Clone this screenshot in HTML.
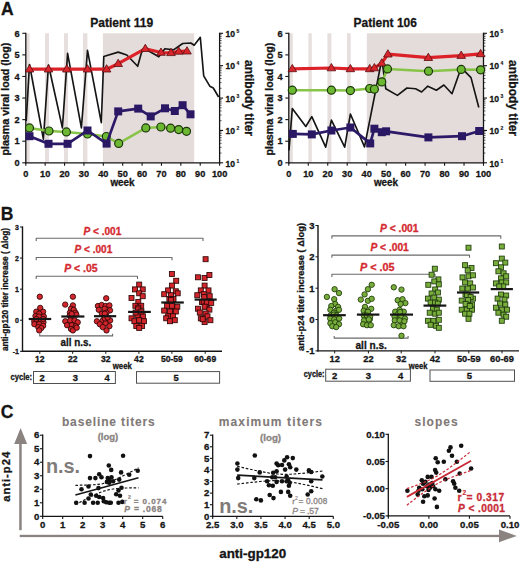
<!DOCTYPE html>
<html><head><meta charset="utf-8"><style>
html,body{margin:0;padding:0;background:#fff;}
svg{display:block;}
</style></head><body>
<svg width="520" height="563" viewBox="0 0 520 563" font-family='"Liberation Sans", sans-serif'>
<rect width="520" height="563" fill="#ffffff"/>
<text x="1.0" y="15.3" font-size="17.5" font-weight="bold" text-anchor="start" fill="#151515" stroke="#151515" stroke-width="0.3">A</text>
<rect x="26.00" y="33.30" width="3.60" height="129.50" fill="#e6dfdd" stroke="none" stroke-width="0"/>
<rect x="45.00" y="33.30" width="4.00" height="129.50" fill="#e6dfdd" stroke="none" stroke-width="0"/>
<rect x="64.00" y="33.30" width="4.00" height="129.50" fill="#e6dfdd" stroke="none" stroke-width="0"/>
<rect x="83.00" y="33.30" width="4.40" height="129.50" fill="#e6dfdd" stroke="none" stroke-width="0"/>
<rect x="102.90" y="33.30" width="91.30" height="129.50" fill="#e4dcda" stroke="none" stroke-width="0"/>
<line x1="25.80" y1="32.70" x2="25.80" y2="163.40" stroke="#151515" stroke-width="1.3"/>
<line x1="25.20" y1="162.80" x2="220.20" y2="162.80" stroke="#151515" stroke-width="1.3"/>
<line x1="219.60" y1="32.70" x2="219.60" y2="163.40" stroke="#151515" stroke-width="1.3"/>
<line x1="22.30" y1="162.80" x2="25.80" y2="162.80" stroke="#151515" stroke-width="1.1"/>
<text x="19.6" y="166.0" font-size="9.2" font-weight="bold" text-anchor="end" fill="#151515" stroke="#151515" stroke-width="0.3">0</text>
<line x1="22.30" y1="141.22" x2="25.80" y2="141.22" stroke="#151515" stroke-width="1.1"/>
<text x="19.6" y="144.41666666666666" font-size="9.2" font-weight="bold" text-anchor="end" fill="#151515" stroke="#151515" stroke-width="0.3">1</text>
<line x1="22.30" y1="119.63" x2="25.80" y2="119.63" stroke="#151515" stroke-width="1.1"/>
<text x="19.6" y="122.83333333333336" font-size="9.2" font-weight="bold" text-anchor="end" fill="#151515" stroke="#151515" stroke-width="0.3">2</text>
<line x1="22.30" y1="98.05" x2="25.80" y2="98.05" stroke="#151515" stroke-width="1.1"/>
<text x="19.6" y="101.25000000000001" font-size="9.2" font-weight="bold" text-anchor="end" fill="#151515" stroke="#151515" stroke-width="0.3">3</text>
<line x1="22.30" y1="76.47" x2="25.80" y2="76.47" stroke="#151515" stroke-width="1.1"/>
<text x="19.6" y="79.66666666666669" font-size="9.2" font-weight="bold" text-anchor="end" fill="#151515" stroke="#151515" stroke-width="0.3">4</text>
<line x1="22.30" y1="54.88" x2="25.80" y2="54.88" stroke="#151515" stroke-width="1.1"/>
<text x="19.6" y="58.08333333333334" font-size="9.2" font-weight="bold" text-anchor="end" fill="#151515" stroke="#151515" stroke-width="0.3">5</text>
<line x1="22.30" y1="33.30" x2="25.80" y2="33.30" stroke="#151515" stroke-width="1.1"/>
<text x="19.6" y="36.500000000000014" font-size="9.2" font-weight="bold" text-anchor="end" fill="#151515" stroke="#151515" stroke-width="0.3">6</text>
<line x1="25.80" y1="162.80" x2="25.80" y2="165.80" stroke="#151515" stroke-width="1.1"/>
<text x="25.8" y="176.6" font-size="9.2" font-weight="bold" text-anchor="middle" fill="#151515" stroke="#151515" stroke-width="0.3">0</text>
<line x1="45.18" y1="162.80" x2="45.18" y2="165.80" stroke="#151515" stroke-width="1.1"/>
<text x="45.18" y="176.6" font-size="9.2" font-weight="bold" text-anchor="middle" fill="#151515" stroke="#151515" stroke-width="0.3">10</text>
<line x1="64.56" y1="162.80" x2="64.56" y2="165.80" stroke="#151515" stroke-width="1.1"/>
<text x="64.56" y="176.6" font-size="9.2" font-weight="bold" text-anchor="middle" fill="#151515" stroke="#151515" stroke-width="0.3">20</text>
<line x1="83.94" y1="162.80" x2="83.94" y2="165.80" stroke="#151515" stroke-width="1.1"/>
<text x="83.94" y="176.6" font-size="9.2" font-weight="bold" text-anchor="middle" fill="#151515" stroke="#151515" stroke-width="0.3">30</text>
<line x1="103.32" y1="162.80" x2="103.32" y2="165.80" stroke="#151515" stroke-width="1.1"/>
<text x="103.32" y="176.6" font-size="9.2" font-weight="bold" text-anchor="middle" fill="#151515" stroke="#151515" stroke-width="0.3">40</text>
<line x1="122.70" y1="162.80" x2="122.70" y2="165.80" stroke="#151515" stroke-width="1.1"/>
<text x="122.7" y="176.6" font-size="9.2" font-weight="bold" text-anchor="middle" fill="#151515" stroke="#151515" stroke-width="0.3">50</text>
<line x1="142.08" y1="162.80" x2="142.08" y2="165.80" stroke="#151515" stroke-width="1.1"/>
<text x="142.07999999999998" y="176.6" font-size="9.2" font-weight="bold" text-anchor="middle" fill="#151515" stroke="#151515" stroke-width="0.3">60</text>
<line x1="161.46" y1="162.80" x2="161.46" y2="165.80" stroke="#151515" stroke-width="1.1"/>
<text x="161.45999999999998" y="176.6" font-size="9.2" font-weight="bold" text-anchor="middle" fill="#151515" stroke="#151515" stroke-width="0.3">70</text>
<line x1="180.84" y1="162.80" x2="180.84" y2="165.80" stroke="#151515" stroke-width="1.1"/>
<text x="180.84" y="176.6" font-size="9.2" font-weight="bold" text-anchor="middle" fill="#151515" stroke="#151515" stroke-width="0.3">80</text>
<line x1="200.22" y1="162.80" x2="200.22" y2="165.80" stroke="#151515" stroke-width="1.1"/>
<text x="200.22" y="176.6" font-size="9.2" font-weight="bold" text-anchor="middle" fill="#151515" stroke="#151515" stroke-width="0.3">90</text>
<line x1="219.60" y1="162.80" x2="219.60" y2="165.80" stroke="#151515" stroke-width="1.1"/>
<text x="219.60000000000002" y="176.6" font-size="9.2" font-weight="bold" text-anchor="middle" fill="#151515" stroke="#151515" stroke-width="0.3">100</text>
<line x1="219.60" y1="162.80" x2="223.10" y2="162.80" stroke="#151515" stroke-width="1.1"/>
<text x="225.6" y="166.5" font-size="8.6" font-weight="bold" text-anchor="start" fill="#151515" stroke="#151515" stroke-width="0.3">10</text>
<text x="236.6" y="162.60000000000002" font-size="5.0" font-weight="bold" text-anchor="start" fill="#151515" stroke="#151515" stroke-width="0.15">1</text>
<line x1="219.30" y1="153.05" x2="221.60" y2="153.05" stroke="#151515" stroke-width="0.7"/>
<line x1="219.30" y1="147.35" x2="221.60" y2="147.35" stroke="#151515" stroke-width="0.7"/>
<line x1="219.30" y1="143.31" x2="221.60" y2="143.31" stroke="#151515" stroke-width="0.7"/>
<line x1="219.30" y1="140.17" x2="221.60" y2="140.17" stroke="#151515" stroke-width="0.7"/>
<line x1="219.30" y1="137.61" x2="221.60" y2="137.61" stroke="#151515" stroke-width="0.7"/>
<line x1="219.30" y1="135.44" x2="221.60" y2="135.44" stroke="#151515" stroke-width="0.7"/>
<line x1="219.30" y1="133.56" x2="221.60" y2="133.56" stroke="#151515" stroke-width="0.7"/>
<line x1="219.30" y1="131.91" x2="221.60" y2="131.91" stroke="#151515" stroke-width="0.7"/>
<line x1="219.60" y1="130.43" x2="223.10" y2="130.43" stroke="#151515" stroke-width="1.1"/>
<text x="225.6" y="134.125" font-size="8.6" font-weight="bold" text-anchor="start" fill="#151515" stroke="#151515" stroke-width="0.3">10</text>
<text x="236.6" y="130.22500000000002" font-size="5.0" font-weight="bold" text-anchor="start" fill="#151515" stroke="#151515" stroke-width="0.15">2</text>
<line x1="219.30" y1="120.68" x2="221.60" y2="120.68" stroke="#151515" stroke-width="0.7"/>
<line x1="219.30" y1="114.98" x2="221.60" y2="114.98" stroke="#151515" stroke-width="0.7"/>
<line x1="219.30" y1="110.93" x2="221.60" y2="110.93" stroke="#151515" stroke-width="0.7"/>
<line x1="219.30" y1="107.80" x2="221.60" y2="107.80" stroke="#151515" stroke-width="0.7"/>
<line x1="219.30" y1="105.23" x2="221.60" y2="105.23" stroke="#151515" stroke-width="0.7"/>
<line x1="219.30" y1="103.06" x2="221.60" y2="103.06" stroke="#151515" stroke-width="0.7"/>
<line x1="219.30" y1="101.19" x2="221.60" y2="101.19" stroke="#151515" stroke-width="0.7"/>
<line x1="219.30" y1="99.53" x2="221.60" y2="99.53" stroke="#151515" stroke-width="0.7"/>
<line x1="219.60" y1="98.05" x2="223.10" y2="98.05" stroke="#151515" stroke-width="1.1"/>
<text x="225.6" y="101.75000000000001" font-size="8.6" font-weight="bold" text-anchor="start" fill="#151515" stroke="#151515" stroke-width="0.3">10</text>
<text x="236.6" y="97.85000000000001" font-size="5.0" font-weight="bold" text-anchor="start" fill="#151515" stroke="#151515" stroke-width="0.15">3</text>
<line x1="219.30" y1="88.30" x2="221.60" y2="88.30" stroke="#151515" stroke-width="0.7"/>
<line x1="219.30" y1="82.60" x2="221.60" y2="82.60" stroke="#151515" stroke-width="0.7"/>
<line x1="219.30" y1="78.56" x2="221.60" y2="78.56" stroke="#151515" stroke-width="0.7"/>
<line x1="219.30" y1="75.42" x2="221.60" y2="75.42" stroke="#151515" stroke-width="0.7"/>
<line x1="219.30" y1="72.86" x2="221.60" y2="72.86" stroke="#151515" stroke-width="0.7"/>
<line x1="219.30" y1="70.69" x2="221.60" y2="70.69" stroke="#151515" stroke-width="0.7"/>
<line x1="219.30" y1="68.81" x2="221.60" y2="68.81" stroke="#151515" stroke-width="0.7"/>
<line x1="219.30" y1="67.16" x2="221.60" y2="67.16" stroke="#151515" stroke-width="0.7"/>
<line x1="219.60" y1="65.68" x2="223.10" y2="65.68" stroke="#151515" stroke-width="1.1"/>
<text x="225.6" y="69.37500000000001" font-size="8.6" font-weight="bold" text-anchor="start" fill="#151515" stroke="#151515" stroke-width="0.3">10</text>
<text x="236.6" y="65.47500000000001" font-size="5.0" font-weight="bold" text-anchor="start" fill="#151515" stroke="#151515" stroke-width="0.15">4</text>
<line x1="219.30" y1="55.93" x2="221.60" y2="55.93" stroke="#151515" stroke-width="0.7"/>
<line x1="219.30" y1="50.23" x2="221.60" y2="50.23" stroke="#151515" stroke-width="0.7"/>
<line x1="219.30" y1="46.18" x2="221.60" y2="46.18" stroke="#151515" stroke-width="0.7"/>
<line x1="219.30" y1="43.05" x2="221.60" y2="43.05" stroke="#151515" stroke-width="0.7"/>
<line x1="219.30" y1="40.48" x2="221.60" y2="40.48" stroke="#151515" stroke-width="0.7"/>
<line x1="219.30" y1="38.31" x2="221.60" y2="38.31" stroke="#151515" stroke-width="0.7"/>
<line x1="219.30" y1="36.44" x2="221.60" y2="36.44" stroke="#151515" stroke-width="0.7"/>
<line x1="219.30" y1="34.78" x2="221.60" y2="34.78" stroke="#151515" stroke-width="0.7"/>
<line x1="219.60" y1="33.30" x2="223.10" y2="33.30" stroke="#151515" stroke-width="1.1"/>
<text x="225.6" y="37.000000000000014" font-size="8.6" font-weight="bold" text-anchor="start" fill="#151515" stroke="#151515" stroke-width="0.3">10</text>
<text x="236.6" y="33.10000000000001" font-size="5.0" font-weight="bold" text-anchor="start" fill="#151515" stroke="#151515" stroke-width="0.15">5</text>
<text x="90.2" y="26.6" font-size="13.5" font-weight="bold" text-anchor="start" fill="#151515" stroke="#151515" stroke-width="0.3" textLength="63" lengthAdjust="spacingAndGlyphs">Patient 119</text>
<polyline points="26.2,121.0 29.5,64.5 43.4,139.1 48.5,65.0 62.4,127.9 67.6,53.4 81.4,127.9 87.5,50.4 101.3,122.7 103.8,56.5 107.0,55.5 118.2,52.1 126.8,55.0 137.7,66.3 141.5,52.5 145.3,49.0 158.8,56.8 164.9,48.7 173.5,49.9 182.7,43.5 190.8,43.0 194.2,45.2 200.3,37.3 203.7,75.8 209.8,86.2 213.3,88.0 218.6,97.0" fill="none" stroke="#151515" stroke-width="1.65" stroke-linejoin="round"/>
<polyline points="29.5,69.2 48.5,69.2 66.8,69.2 87.5,69.2 106.6,69.2 118.2,63.7 145.3,48.7 161.0,52.5 171.0,52.8 178.7,51.4 187.0,51.2" fill="none" stroke="#dc2228" stroke-width="3.2" stroke-linejoin="round"/>
<polygon points="29.5,64.7 33.8,72.0 25.2,72.0" fill="#d8262c" stroke="#5a0e10" stroke-width="0.8" stroke-linejoin="round"/>
<polygon points="48.5,64.7 52.8,72.0 44.2,72.0" fill="#d8262c" stroke="#5a0e10" stroke-width="0.8" stroke-linejoin="round"/>
<polygon points="66.8,64.7 71.1,72.0 62.5,72.0" fill="#d8262c" stroke="#5a0e10" stroke-width="0.8" stroke-linejoin="round"/>
<polygon points="87.5,64.7 91.8,72.0 83.2,72.0" fill="#d8262c" stroke="#5a0e10" stroke-width="0.8" stroke-linejoin="round"/>
<polygon points="106.6,64.7 110.9,72.0 102.3,72.0" fill="#d8262c" stroke="#5a0e10" stroke-width="0.8" stroke-linejoin="round"/>
<polygon points="118.2,59.2 122.5,66.5 113.9,66.5" fill="#d8262c" stroke="#5a0e10" stroke-width="0.8" stroke-linejoin="round"/>
<polygon points="145.3,44.2 149.6,51.5 141.0,51.5" fill="#d8262c" stroke="#5a0e10" stroke-width="0.8" stroke-linejoin="round"/>
<polygon points="161.0,48.0 165.3,55.3 156.7,55.3" fill="#d8262c" stroke="#5a0e10" stroke-width="0.8" stroke-linejoin="round"/>
<polygon points="171.0,48.3 175.3,55.6 166.7,55.6" fill="#d8262c" stroke="#5a0e10" stroke-width="0.8" stroke-linejoin="round"/>
<polygon points="178.7,46.9 183.0,54.2 174.4,54.2" fill="#d8262c" stroke="#5a0e10" stroke-width="0.8" stroke-linejoin="round"/>
<polygon points="187.0,46.7 191.3,54.0 182.7,54.0" fill="#d8262c" stroke="#5a0e10" stroke-width="0.8" stroke-linejoin="round"/>
<polyline points="29.5,127.9 49.0,131.0 66.4,131.9 87.5,134.0 106.3,136.5 118.7,143.4 145.8,127.9 160.9,127.0 170.6,128.2 178.7,129.6 186.5,131.3" fill="none" stroke="#88c448" stroke-width="2.5" stroke-linejoin="round"/>
<circle cx="29.5" cy="127.9" r="4.0" fill="#6cb833" stroke="#1c360a" stroke-width="1.2"/>
<circle cx="49.0" cy="131.0" r="4.0" fill="#6cb833" stroke="#1c360a" stroke-width="1.2"/>
<circle cx="66.4" cy="131.9" r="4.0" fill="#6cb833" stroke="#1c360a" stroke-width="1.2"/>
<circle cx="87.5" cy="134.0" r="4.0" fill="#6cb833" stroke="#1c360a" stroke-width="1.2"/>
<circle cx="106.3" cy="136.5" r="4.0" fill="#6cb833" stroke="#1c360a" stroke-width="1.2"/>
<circle cx="118.7" cy="143.4" r="4.0" fill="#6cb833" stroke="#1c360a" stroke-width="1.2"/>
<circle cx="145.8" cy="127.9" r="4.0" fill="#6cb833" stroke="#1c360a" stroke-width="1.2"/>
<circle cx="160.9" cy="127.0" r="4.0" fill="#6cb833" stroke="#1c360a" stroke-width="1.2"/>
<circle cx="170.6" cy="128.2" r="4.0" fill="#6cb833" stroke="#1c360a" stroke-width="1.2"/>
<circle cx="178.7" cy="129.6" r="4.0" fill="#6cb833" stroke="#1c360a" stroke-width="1.2"/>
<circle cx="186.5" cy="131.3" r="4.0" fill="#6cb833" stroke="#1c360a" stroke-width="1.2"/>
<polyline points="29.5,136.2 48.5,143.8 67.6,143.8 87.5,130.5 106.6,143.6 118.2,111.4 138.2,108.6 150.7,116.4 165.0,108.3 174.8,111.0 182.6,105.2 190.5,114.3" fill="none" stroke="#2c1a68" stroke-width="2.7" stroke-linejoin="round"/>
<rect x="25.5" y="132.2" width="8.0" height="8.0" fill="#2a1865" stroke="none" stroke-width="0"/>
<rect x="44.5" y="139.8" width="8.0" height="8.0" fill="#2a1865" stroke="none" stroke-width="0"/>
<rect x="63.6" y="139.8" width="8.0" height="8.0" fill="#2a1865" stroke="none" stroke-width="0"/>
<rect x="83.5" y="126.5" width="8.0" height="8.0" fill="#2a1865" stroke="none" stroke-width="0"/>
<rect x="102.6" y="139.6" width="8.0" height="8.0" fill="#2a1865" stroke="none" stroke-width="0"/>
<rect x="114.2" y="107.4" width="8.0" height="8.0" fill="#2a1865" stroke="none" stroke-width="0"/>
<rect x="134.2" y="104.6" width="8.0" height="8.0" fill="#2a1865" stroke="none" stroke-width="0"/>
<rect x="146.7" y="112.4" width="8.0" height="8.0" fill="#2a1865" stroke="none" stroke-width="0"/>
<rect x="161.0" y="104.3" width="8.0" height="8.0" fill="#2a1865" stroke="none" stroke-width="0"/>
<rect x="170.8" y="107.0" width="8.0" height="8.0" fill="#2a1865" stroke="none" stroke-width="0"/>
<rect x="178.6" y="101.2" width="8.0" height="8.0" fill="#2a1865" stroke="none" stroke-width="0"/>
<rect x="186.5" y="110.3" width="8.0" height="8.0" fill="#2a1865" stroke="none" stroke-width="0"/>
<rect x="288.80" y="33.30" width="4.00" height="129.50" fill="#e6dfdd" stroke="none" stroke-width="0"/>
<rect x="308.40" y="33.30" width="3.40" height="129.50" fill="#e6dfdd" stroke="none" stroke-width="0"/>
<rect x="327.40" y="33.30" width="4.00" height="129.50" fill="#e6dfdd" stroke="none" stroke-width="0"/>
<rect x="347.00" y="33.30" width="3.70" height="129.50" fill="#e6dfdd" stroke="none" stroke-width="0"/>
<rect x="366.80" y="33.30" width="116.70" height="129.50" fill="#e4dcda" stroke="none" stroke-width="0"/>
<line x1="288.80" y1="32.70" x2="288.80" y2="163.40" stroke="#151515" stroke-width="1.3"/>
<line x1="288.20" y1="162.80" x2="484.10" y2="162.80" stroke="#151515" stroke-width="1.3"/>
<line x1="483.50" y1="32.70" x2="483.50" y2="163.40" stroke="#151515" stroke-width="1.3"/>
<line x1="285.30" y1="162.80" x2="288.80" y2="162.80" stroke="#151515" stroke-width="1.1"/>
<text x="282.6" y="166.0" font-size="9.2" font-weight="bold" text-anchor="end" fill="#151515" stroke="#151515" stroke-width="0.3">0</text>
<line x1="285.30" y1="141.22" x2="288.80" y2="141.22" stroke="#151515" stroke-width="1.1"/>
<text x="282.6" y="144.41666666666666" font-size="9.2" font-weight="bold" text-anchor="end" fill="#151515" stroke="#151515" stroke-width="0.3">1</text>
<line x1="285.30" y1="119.63" x2="288.80" y2="119.63" stroke="#151515" stroke-width="1.1"/>
<text x="282.6" y="122.83333333333336" font-size="9.2" font-weight="bold" text-anchor="end" fill="#151515" stroke="#151515" stroke-width="0.3">2</text>
<line x1="285.30" y1="98.05" x2="288.80" y2="98.05" stroke="#151515" stroke-width="1.1"/>
<text x="282.6" y="101.25000000000001" font-size="9.2" font-weight="bold" text-anchor="end" fill="#151515" stroke="#151515" stroke-width="0.3">3</text>
<line x1="285.30" y1="76.47" x2="288.80" y2="76.47" stroke="#151515" stroke-width="1.1"/>
<text x="282.6" y="79.66666666666669" font-size="9.2" font-weight="bold" text-anchor="end" fill="#151515" stroke="#151515" stroke-width="0.3">4</text>
<line x1="285.30" y1="54.88" x2="288.80" y2="54.88" stroke="#151515" stroke-width="1.1"/>
<text x="282.6" y="58.08333333333334" font-size="9.2" font-weight="bold" text-anchor="end" fill="#151515" stroke="#151515" stroke-width="0.3">5</text>
<line x1="285.30" y1="33.30" x2="288.80" y2="33.30" stroke="#151515" stroke-width="1.1"/>
<text x="282.6" y="36.500000000000014" font-size="9.2" font-weight="bold" text-anchor="end" fill="#151515" stroke="#151515" stroke-width="0.3">6</text>
<line x1="288.80" y1="162.80" x2="288.80" y2="165.80" stroke="#151515" stroke-width="1.1"/>
<text x="288.8" y="176.6" font-size="9.2" font-weight="bold" text-anchor="middle" fill="#151515" stroke="#151515" stroke-width="0.3">0</text>
<line x1="308.27" y1="162.80" x2="308.27" y2="165.80" stroke="#151515" stroke-width="1.1"/>
<text x="308.27" y="176.6" font-size="9.2" font-weight="bold" text-anchor="middle" fill="#151515" stroke="#151515" stroke-width="0.3">10</text>
<line x1="327.74" y1="162.80" x2="327.74" y2="165.80" stroke="#151515" stroke-width="1.1"/>
<text x="327.74" y="176.6" font-size="9.2" font-weight="bold" text-anchor="middle" fill="#151515" stroke="#151515" stroke-width="0.3">20</text>
<line x1="347.21" y1="162.80" x2="347.21" y2="165.80" stroke="#151515" stroke-width="1.1"/>
<text x="347.21000000000004" y="176.6" font-size="9.2" font-weight="bold" text-anchor="middle" fill="#151515" stroke="#151515" stroke-width="0.3">30</text>
<line x1="366.68" y1="162.80" x2="366.68" y2="165.80" stroke="#151515" stroke-width="1.1"/>
<text x="366.68" y="176.6" font-size="9.2" font-weight="bold" text-anchor="middle" fill="#151515" stroke="#151515" stroke-width="0.3">40</text>
<line x1="386.15" y1="162.80" x2="386.15" y2="165.80" stroke="#151515" stroke-width="1.1"/>
<text x="386.15" y="176.6" font-size="9.2" font-weight="bold" text-anchor="middle" fill="#151515" stroke="#151515" stroke-width="0.3">50</text>
<line x1="405.62" y1="162.80" x2="405.62" y2="165.80" stroke="#151515" stroke-width="1.1"/>
<text x="405.62" y="176.6" font-size="9.2" font-weight="bold" text-anchor="middle" fill="#151515" stroke="#151515" stroke-width="0.3">60</text>
<line x1="425.09" y1="162.80" x2="425.09" y2="165.80" stroke="#151515" stroke-width="1.1"/>
<text x="425.09000000000003" y="176.6" font-size="9.2" font-weight="bold" text-anchor="middle" fill="#151515" stroke="#151515" stroke-width="0.3">70</text>
<line x1="444.56" y1="162.80" x2="444.56" y2="165.80" stroke="#151515" stroke-width="1.1"/>
<text x="444.56" y="176.6" font-size="9.2" font-weight="bold" text-anchor="middle" fill="#151515" stroke="#151515" stroke-width="0.3">80</text>
<line x1="464.03" y1="162.80" x2="464.03" y2="165.80" stroke="#151515" stroke-width="1.1"/>
<text x="464.03" y="176.6" font-size="9.2" font-weight="bold" text-anchor="middle" fill="#151515" stroke="#151515" stroke-width="0.3">90</text>
<line x1="483.50" y1="162.80" x2="483.50" y2="165.80" stroke="#151515" stroke-width="1.1"/>
<text x="483.5" y="176.6" font-size="9.2" font-weight="bold" text-anchor="middle" fill="#151515" stroke="#151515" stroke-width="0.3">100</text>
<line x1="483.50" y1="162.80" x2="487.00" y2="162.80" stroke="#151515" stroke-width="1.1"/>
<text x="489.5" y="166.5" font-size="8.6" font-weight="bold" text-anchor="start" fill="#151515" stroke="#151515" stroke-width="0.3">10</text>
<text x="500.5" y="162.60000000000002" font-size="5.0" font-weight="bold" text-anchor="start" fill="#151515" stroke="#151515" stroke-width="0.15">1</text>
<line x1="483.20" y1="153.05" x2="485.50" y2="153.05" stroke="#151515" stroke-width="0.7"/>
<line x1="483.20" y1="147.35" x2="485.50" y2="147.35" stroke="#151515" stroke-width="0.7"/>
<line x1="483.20" y1="143.31" x2="485.50" y2="143.31" stroke="#151515" stroke-width="0.7"/>
<line x1="483.20" y1="140.17" x2="485.50" y2="140.17" stroke="#151515" stroke-width="0.7"/>
<line x1="483.20" y1="137.61" x2="485.50" y2="137.61" stroke="#151515" stroke-width="0.7"/>
<line x1="483.20" y1="135.44" x2="485.50" y2="135.44" stroke="#151515" stroke-width="0.7"/>
<line x1="483.20" y1="133.56" x2="485.50" y2="133.56" stroke="#151515" stroke-width="0.7"/>
<line x1="483.20" y1="131.91" x2="485.50" y2="131.91" stroke="#151515" stroke-width="0.7"/>
<line x1="483.50" y1="130.43" x2="487.00" y2="130.43" stroke="#151515" stroke-width="1.1"/>
<text x="489.5" y="134.125" font-size="8.6" font-weight="bold" text-anchor="start" fill="#151515" stroke="#151515" stroke-width="0.3">10</text>
<text x="500.5" y="130.22500000000002" font-size="5.0" font-weight="bold" text-anchor="start" fill="#151515" stroke="#151515" stroke-width="0.15">2</text>
<line x1="483.20" y1="120.68" x2="485.50" y2="120.68" stroke="#151515" stroke-width="0.7"/>
<line x1="483.20" y1="114.98" x2="485.50" y2="114.98" stroke="#151515" stroke-width="0.7"/>
<line x1="483.20" y1="110.93" x2="485.50" y2="110.93" stroke="#151515" stroke-width="0.7"/>
<line x1="483.20" y1="107.80" x2="485.50" y2="107.80" stroke="#151515" stroke-width="0.7"/>
<line x1="483.20" y1="105.23" x2="485.50" y2="105.23" stroke="#151515" stroke-width="0.7"/>
<line x1="483.20" y1="103.06" x2="485.50" y2="103.06" stroke="#151515" stroke-width="0.7"/>
<line x1="483.20" y1="101.19" x2="485.50" y2="101.19" stroke="#151515" stroke-width="0.7"/>
<line x1="483.20" y1="99.53" x2="485.50" y2="99.53" stroke="#151515" stroke-width="0.7"/>
<line x1="483.50" y1="98.05" x2="487.00" y2="98.05" stroke="#151515" stroke-width="1.1"/>
<text x="489.5" y="101.75000000000001" font-size="8.6" font-weight="bold" text-anchor="start" fill="#151515" stroke="#151515" stroke-width="0.3">10</text>
<text x="500.5" y="97.85000000000001" font-size="5.0" font-weight="bold" text-anchor="start" fill="#151515" stroke="#151515" stroke-width="0.15">3</text>
<line x1="483.20" y1="88.30" x2="485.50" y2="88.30" stroke="#151515" stroke-width="0.7"/>
<line x1="483.20" y1="82.60" x2="485.50" y2="82.60" stroke="#151515" stroke-width="0.7"/>
<line x1="483.20" y1="78.56" x2="485.50" y2="78.56" stroke="#151515" stroke-width="0.7"/>
<line x1="483.20" y1="75.42" x2="485.50" y2="75.42" stroke="#151515" stroke-width="0.7"/>
<line x1="483.20" y1="72.86" x2="485.50" y2="72.86" stroke="#151515" stroke-width="0.7"/>
<line x1="483.20" y1="70.69" x2="485.50" y2="70.69" stroke="#151515" stroke-width="0.7"/>
<line x1="483.20" y1="68.81" x2="485.50" y2="68.81" stroke="#151515" stroke-width="0.7"/>
<line x1="483.20" y1="67.16" x2="485.50" y2="67.16" stroke="#151515" stroke-width="0.7"/>
<line x1="483.50" y1="65.68" x2="487.00" y2="65.68" stroke="#151515" stroke-width="1.1"/>
<text x="489.5" y="69.37500000000001" font-size="8.6" font-weight="bold" text-anchor="start" fill="#151515" stroke="#151515" stroke-width="0.3">10</text>
<text x="500.5" y="65.47500000000001" font-size="5.0" font-weight="bold" text-anchor="start" fill="#151515" stroke="#151515" stroke-width="0.15">4</text>
<line x1="483.20" y1="55.93" x2="485.50" y2="55.93" stroke="#151515" stroke-width="0.7"/>
<line x1="483.20" y1="50.23" x2="485.50" y2="50.23" stroke="#151515" stroke-width="0.7"/>
<line x1="483.20" y1="46.18" x2="485.50" y2="46.18" stroke="#151515" stroke-width="0.7"/>
<line x1="483.20" y1="43.05" x2="485.50" y2="43.05" stroke="#151515" stroke-width="0.7"/>
<line x1="483.20" y1="40.48" x2="485.50" y2="40.48" stroke="#151515" stroke-width="0.7"/>
<line x1="483.20" y1="38.31" x2="485.50" y2="38.31" stroke="#151515" stroke-width="0.7"/>
<line x1="483.20" y1="36.44" x2="485.50" y2="36.44" stroke="#151515" stroke-width="0.7"/>
<line x1="483.20" y1="34.78" x2="485.50" y2="34.78" stroke="#151515" stroke-width="0.7"/>
<line x1="483.50" y1="33.30" x2="487.00" y2="33.30" stroke="#151515" stroke-width="1.1"/>
<text x="489.5" y="37.000000000000014" font-size="8.6" font-weight="bold" text-anchor="start" fill="#151515" stroke="#151515" stroke-width="0.3">10</text>
<text x="500.5" y="33.10000000000001" font-size="5.0" font-weight="bold" text-anchor="start" fill="#151515" stroke="#151515" stroke-width="0.15">5</text>
<text x="353.6" y="26.6" font-size="13.5" font-weight="bold" text-anchor="start" fill="#151515" stroke="#151515" stroke-width="0.3" textLength="63.3" lengthAdjust="spacingAndGlyphs">Patient 106</text>
<polyline points="289.0,150.4 292.3,108.5 305.8,126.5 311.8,116.6 325.7,147.2 331.4,120.1 344.7,147.2 350.4,114.0 364.5,146.9 381.0,63.5 382.7,65.5 385.8,88.8 397.4,95.4 406.9,88.0 415.6,88.8 421.6,92.0 427.8,86.2 436.4,90.2 443.9,85.0 452.0,93.7 461.2,67.7 471.0,77.6 478.8,107.5" fill="none" stroke="#151515" stroke-width="1.65" stroke-linejoin="round"/>
<polyline points="292.3,68.9 331.4,68.0 350.4,68.9 369.7,68.9 374.4,68.0 381.8,63.2 387.9,54.2 428.3,57.7 461.2,55.6 480.6,53.9" fill="none" stroke="#dc2228" stroke-width="3.2" stroke-linejoin="round"/>
<polygon points="292.3,64.4 296.6,71.7 288.0,71.7" fill="#d8262c" stroke="#5a0e10" stroke-width="0.8" stroke-linejoin="round"/>
<polygon points="331.4,63.5 335.7,70.8 327.1,70.8" fill="#d8262c" stroke="#5a0e10" stroke-width="0.8" stroke-linejoin="round"/>
<polygon points="350.4,64.4 354.7,71.7 346.1,71.7" fill="#d8262c" stroke="#5a0e10" stroke-width="0.8" stroke-linejoin="round"/>
<polygon points="369.7,64.4 374.0,71.7 365.4,71.7" fill="#d8262c" stroke="#5a0e10" stroke-width="0.8" stroke-linejoin="round"/>
<polygon points="374.4,63.5 378.7,70.8 370.1,70.8" fill="#d8262c" stroke="#5a0e10" stroke-width="0.8" stroke-linejoin="round"/>
<polygon points="381.8,58.7 386.1,66.0 377.5,66.0" fill="#d8262c" stroke="#5a0e10" stroke-width="0.8" stroke-linejoin="round"/>
<polygon points="387.9,49.7 392.2,57.0 383.6,57.0" fill="#d8262c" stroke="#5a0e10" stroke-width="0.8" stroke-linejoin="round"/>
<polygon points="428.3,53.2 432.6,60.5 424.0,60.5" fill="#d8262c" stroke="#5a0e10" stroke-width="0.8" stroke-linejoin="round"/>
<polygon points="461.2,51.1 465.5,58.4 456.9,58.4" fill="#d8262c" stroke="#5a0e10" stroke-width="0.8" stroke-linejoin="round"/>
<polygon points="480.6,49.4 484.9,56.7 476.3,56.7" fill="#d8262c" stroke="#5a0e10" stroke-width="0.8" stroke-linejoin="round"/>
<polyline points="292.3,90.2 331.4,90.2 350.4,90.6 369.7,88.5 374.4,89.2 381.8,81.9 387.5,68.9 428.5,71.2 461.2,69.4 480.6,69.8" fill="none" stroke="#88c448" stroke-width="2.5" stroke-linejoin="round"/>
<circle cx="292.3" cy="90.2" r="4.0" fill="#6cb833" stroke="#1c360a" stroke-width="1.2"/>
<circle cx="331.4" cy="90.2" r="4.0" fill="#6cb833" stroke="#1c360a" stroke-width="1.2"/>
<circle cx="350.4" cy="90.6" r="4.0" fill="#6cb833" stroke="#1c360a" stroke-width="1.2"/>
<circle cx="369.7" cy="88.5" r="4.0" fill="#6cb833" stroke="#1c360a" stroke-width="1.2"/>
<circle cx="374.4" cy="89.2" r="4.0" fill="#6cb833" stroke="#1c360a" stroke-width="1.2"/>
<circle cx="381.8" cy="81.9" r="4.0" fill="#6cb833" stroke="#1c360a" stroke-width="1.2"/>
<circle cx="387.5" cy="68.9" r="4.0" fill="#6cb833" stroke="#1c360a" stroke-width="1.2"/>
<circle cx="428.5" cy="71.2" r="4.0" fill="#6cb833" stroke="#1c360a" stroke-width="1.2"/>
<circle cx="461.2" cy="69.4" r="4.0" fill="#6cb833" stroke="#1c360a" stroke-width="1.2"/>
<circle cx="480.6" cy="69.8" r="4.0" fill="#6cb833" stroke="#1c360a" stroke-width="1.2"/>
<polyline points="292.8,133.9 311.8,134.4 331.4,130.5 350.4,127.5 370.2,143.4 374.4,128.7 381.8,132.2 386.1,131.3 428.4,137.4 462.0,136.2 479.2,131.0" fill="none" stroke="#2c1a68" stroke-width="2.7" stroke-linejoin="round"/>
<rect x="288.8" y="129.9" width="8.0" height="8.0" fill="#2a1865" stroke="none" stroke-width="0"/>
<rect x="307.8" y="130.4" width="8.0" height="8.0" fill="#2a1865" stroke="none" stroke-width="0"/>
<rect x="327.4" y="126.5" width="8.0" height="8.0" fill="#2a1865" stroke="none" stroke-width="0"/>
<rect x="346.4" y="123.5" width="8.0" height="8.0" fill="#2a1865" stroke="none" stroke-width="0"/>
<rect x="366.2" y="139.4" width="8.0" height="8.0" fill="#2a1865" stroke="none" stroke-width="0"/>
<rect x="370.4" y="124.7" width="8.0" height="8.0" fill="#2a1865" stroke="none" stroke-width="0"/>
<rect x="377.8" y="128.2" width="8.0" height="8.0" fill="#2a1865" stroke="none" stroke-width="0"/>
<rect x="382.1" y="127.3" width="8.0" height="8.0" fill="#2a1865" stroke="none" stroke-width="0"/>
<rect x="424.4" y="133.4" width="8.0" height="8.0" fill="#2a1865" stroke="none" stroke-width="0"/>
<rect x="458.0" y="132.2" width="8.0" height="8.0" fill="#2a1865" stroke="none" stroke-width="0"/>
<rect x="475.2" y="127.0" width="8.0" height="8.0" fill="#2a1865" stroke="none" stroke-width="0"/>
<text x="9.3" y="155.6" font-size="11.2" font-weight="bold" text-anchor="start" fill="#151515" stroke="#151515" stroke-width="0.3" textLength="113" lengthAdjust="spacingAndGlyphs" transform="rotate(-90 9.3 155.6)">plasma viral load (log)</text>
<text x="244.8" y="60" font-size="12.2" font-weight="bold" text-anchor="start" fill="#151515" stroke="#151515" stroke-width="0.3" textLength="76" lengthAdjust="spacingAndGlyphs" transform="rotate(90 244.8 60)">antibody titer</text>
<text x="122.5" y="186" font-size="10" font-weight="bold" text-anchor="middle" fill="#151515" stroke="#151515" stroke-width="0.3" textLength="24.2" lengthAdjust="spacingAndGlyphs">week</text>
<text x="272.6" y="155.6" font-size="11.2" font-weight="bold" text-anchor="start" fill="#151515" stroke="#151515" stroke-width="0.3" textLength="113" lengthAdjust="spacingAndGlyphs" transform="rotate(-90 272.6 155.6)">plasma viral load (log)</text>
<text x="508.8" y="60" font-size="12.2" font-weight="bold" text-anchor="start" fill="#151515" stroke="#151515" stroke-width="0.3" textLength="76" lengthAdjust="spacingAndGlyphs" transform="rotate(90 508.8 60)">antibody titer</text>
<text x="386" y="186" font-size="10" font-weight="bold" text-anchor="middle" fill="#151515" stroke="#151515" stroke-width="0.3" textLength="24.2" lengthAdjust="spacingAndGlyphs">week</text>
<text x="0.8" y="220.3" font-size="17.5" font-weight="bold" text-anchor="start" fill="#151515" stroke="#151515" stroke-width="0.3">B</text>
<line x1="22.50" y1="226.40" x2="22.50" y2="351.90" stroke="#151515" stroke-width="1.4"/>
<line x1="21.90" y1="351.30" x2="222.00" y2="351.30" stroke="#151515" stroke-width="1.4"/>
<line x1="20.00" y1="227.00" x2="22.50" y2="227.00" stroke="#151515" stroke-width="1.0"/>
<text x="19.0" y="229.52" font-size="7.0" font-weight="bold" text-anchor="end" fill="#151515" stroke="#151515" stroke-width="0.3">3</text>
<line x1="20.00" y1="258.07" x2="22.50" y2="258.07" stroke="#151515" stroke-width="1.0"/>
<text x="19.0" y="260.59499999999997" font-size="7.0" font-weight="bold" text-anchor="end" fill="#151515" stroke="#151515" stroke-width="0.3">2</text>
<line x1="20.00" y1="289.15" x2="22.50" y2="289.15" stroke="#151515" stroke-width="1.0"/>
<text x="19.0" y="291.66999999999996" font-size="7.0" font-weight="bold" text-anchor="end" fill="#151515" stroke="#151515" stroke-width="0.3">1</text>
<line x1="20.00" y1="320.23" x2="22.50" y2="320.23" stroke="#151515" stroke-width="1.0"/>
<text x="19.0" y="322.745" font-size="7.0" font-weight="bold" text-anchor="end" fill="#151515" stroke="#151515" stroke-width="0.3">0</text>
<line x1="20.00" y1="351.30" x2="22.50" y2="351.30" stroke="#151515" stroke-width="1.0"/>
<text x="19.0" y="353.82" font-size="7.0" font-weight="bold" text-anchor="end" fill="#151515" stroke="#151515" stroke-width="0.3">-1</text>
<line x1="39.80" y1="351.30" x2="39.80" y2="353.80" stroke="#151515" stroke-width="1.0"/>
<text x="39.8" y="361.90000000000003" font-size="8.6" font-weight="bold" text-anchor="middle" fill="#151515" stroke="#151515" stroke-width="0.3">12</text>
<line x1="72.70" y1="351.30" x2="72.70" y2="353.80" stroke="#151515" stroke-width="1.0"/>
<text x="72.7" y="361.90000000000003" font-size="8.6" font-weight="bold" text-anchor="middle" fill="#151515" stroke="#151515" stroke-width="0.3">22</text>
<line x1="105.80" y1="351.30" x2="105.80" y2="353.80" stroke="#151515" stroke-width="1.0"/>
<text x="105.8" y="361.90000000000003" font-size="8.6" font-weight="bold" text-anchor="middle" fill="#151515" stroke="#151515" stroke-width="0.3">32</text>
<line x1="138.90" y1="351.30" x2="138.90" y2="353.80" stroke="#151515" stroke-width="1.0"/>
<text x="138.9" y="361.90000000000003" font-size="8.6" font-weight="bold" text-anchor="middle" fill="#151515" stroke="#151515" stroke-width="0.3">42</text>
<line x1="171.90" y1="351.30" x2="171.90" y2="353.80" stroke="#151515" stroke-width="1.0"/>
<text x="171.9" y="361.90000000000003" font-size="8.6" font-weight="bold" text-anchor="middle" fill="#151515" stroke="#151515" stroke-width="0.3">50-59</text>
<line x1="205.20" y1="351.30" x2="205.20" y2="353.80" stroke="#151515" stroke-width="1.0"/>
<text x="205.2" y="361.90000000000003" font-size="8.6" font-weight="bold" text-anchor="middle" fill="#151515" stroke="#151515" stroke-width="0.3">60-69</text>
<polyline points="36.2,240.5 36.2,238.3 203.0,238.3 203.0,240.5" fill="none" stroke="#6a6a6a" stroke-width="1.1" stroke-linejoin="round" stroke-linecap="square"/>
<polyline points="36.2,259.7 36.2,257.5 172.0,257.5 172.0,259.7" fill="none" stroke="#6a6a6a" stroke-width="1.1" stroke-linejoin="round" stroke-linecap="square"/>
<polyline points="36.2,278.5 36.2,276.3 137.5,276.3 137.5,278.5" fill="none" stroke="#6a6a6a" stroke-width="1.1" stroke-linejoin="round" stroke-linecap="square"/>
<text x="83.5" y="235" font-size="10" font-weight="bold" fill="#d42a30" stroke="#d42a30" stroke-width="0.3" textLength="37.8" lengthAdjust="spacingAndGlyphs"><tspan font-style="italic">P</tspan> &lt; .001</text>
<text x="74.6" y="252.7" font-size="10" font-weight="bold" fill="#d42a30" stroke="#d42a30" stroke-width="0.3" textLength="37.7" lengthAdjust="spacingAndGlyphs"><tspan font-style="italic">P</tspan> &lt; .001</text>
<text x="64.2" y="272.3" font-size="10" font-weight="bold" fill="#d42a30" stroke="#d42a30" stroke-width="0.3" textLength="33.5" lengthAdjust="spacingAndGlyphs"><tspan font-style="italic">P</tspan> &lt; .05</text>
<polyline points="39.7,333.7 39.7,335.9 112.6,335.9 112.6,333.7" fill="none" stroke="#6a6a6a" stroke-width="1.1" stroke-linejoin="round"/>
<text x="60.5" y="345.7" font-size="10.5" font-weight="bold" text-anchor="start" fill="#151515" stroke="#151515" stroke-width="0.3" textLength="30.7" lengthAdjust="spacingAndGlyphs">all n.s.</text>
<circle cx="39.8" cy="296.7" r="2.7" fill="#d2262c" stroke="#2e0606" stroke-width="0.85"/>
<circle cx="40.2" cy="307.9" r="2.7" fill="#d2262c" stroke="#2e0606" stroke-width="0.85"/>
<circle cx="36.3" cy="311.7" r="2.7" fill="#d2262c" stroke="#2e0606" stroke-width="0.85"/>
<circle cx="43.1" cy="311.7" r="2.7" fill="#d2262c" stroke="#2e0606" stroke-width="0.85"/>
<circle cx="39.2" cy="313.7" r="2.7" fill="#d2262c" stroke="#2e0606" stroke-width="0.85"/>
<circle cx="35.5" cy="316.0" r="2.7" fill="#d2262c" stroke="#2e0606" stroke-width="0.85"/>
<circle cx="43.8" cy="316.5" r="2.7" fill="#d2262c" stroke="#2e0606" stroke-width="0.85"/>
<circle cx="34.3" cy="321.3" r="2.7" fill="#d2262c" stroke="#2e0606" stroke-width="0.85"/>
<circle cx="38.1" cy="320.4" r="2.7" fill="#d2262c" stroke="#2e0606" stroke-width="0.85"/>
<circle cx="38.3" cy="321.5" r="2.7" fill="#d2262c" stroke="#2e0606" stroke-width="0.85"/>
<circle cx="39.8" cy="326.0" r="2.7" fill="#d2262c" stroke="#2e0606" stroke-width="0.85"/>
<circle cx="38.8" cy="316.5" r="2.7" fill="#d2262c" stroke="#2e0606" stroke-width="0.85"/>
<circle cx="41.3" cy="323.5" r="2.7" fill="#d2262c" stroke="#2e0606" stroke-width="0.85"/>
<circle cx="41.3" cy="320.4" r="2.7" fill="#d2262c" stroke="#2e0606" stroke-width="0.85"/>
<circle cx="43.4" cy="322.3" r="2.7" fill="#d2262c" stroke="#2e0606" stroke-width="0.85"/>
<circle cx="34.4" cy="324.2" r="2.7" fill="#d2262c" stroke="#2e0606" stroke-width="0.85"/>
<circle cx="39.2" cy="324.2" r="2.7" fill="#d2262c" stroke="#2e0606" stroke-width="0.85"/>
<circle cx="43.1" cy="325.8" r="2.7" fill="#d2262c" stroke="#2e0606" stroke-width="0.85"/>
<circle cx="38.3" cy="327.1" r="2.7" fill="#d2262c" stroke="#2e0606" stroke-width="0.85"/>
<circle cx="41.2" cy="328.1" r="2.7" fill="#d2262c" stroke="#2e0606" stroke-width="0.85"/>
<circle cx="39.2" cy="330.4" r="2.7" fill="#d2262c" stroke="#2e0606" stroke-width="0.85"/>
<circle cx="36.3" cy="319.0" r="2.7" fill="#d2262c" stroke="#2e0606" stroke-width="0.85"/>
<circle cx="43.2" cy="319.0" r="2.7" fill="#d2262c" stroke="#2e0606" stroke-width="0.85"/>
<circle cx="72.9" cy="296.7" r="2.7" fill="#d2262c" stroke="#2e0606" stroke-width="0.85"/>
<circle cx="65.2" cy="304.6" r="2.7" fill="#d2262c" stroke="#2e0606" stroke-width="0.85"/>
<circle cx="72.9" cy="305.4" r="2.7" fill="#d2262c" stroke="#2e0606" stroke-width="0.85"/>
<circle cx="71.0" cy="308.8" r="2.7" fill="#d2262c" stroke="#2e0606" stroke-width="0.85"/>
<circle cx="73.8" cy="309.8" r="2.7" fill="#d2262c" stroke="#2e0606" stroke-width="0.85"/>
<circle cx="69.9" cy="312.7" r="2.7" fill="#d2262c" stroke="#2e0606" stroke-width="0.85"/>
<circle cx="75.5" cy="312.7" r="2.7" fill="#d2262c" stroke="#2e0606" stroke-width="0.85"/>
<circle cx="69.8" cy="315.6" r="2.7" fill="#d2262c" stroke="#2e0606" stroke-width="0.85"/>
<circle cx="76.3" cy="314.6" r="2.7" fill="#d2262c" stroke="#2e0606" stroke-width="0.85"/>
<circle cx="71.2" cy="319.0" r="2.7" fill="#d2262c" stroke="#2e0606" stroke-width="0.85"/>
<circle cx="72.7" cy="323.5" r="2.7" fill="#d2262c" stroke="#2e0606" stroke-width="0.85"/>
<circle cx="71.7" cy="314.0" r="2.7" fill="#d2262c" stroke="#2e0606" stroke-width="0.85"/>
<circle cx="74.2" cy="321.0" r="2.7" fill="#d2262c" stroke="#2e0606" stroke-width="0.85"/>
<circle cx="65.3" cy="321.3" r="2.7" fill="#d2262c" stroke="#2e0606" stroke-width="0.85"/>
<circle cx="70.3" cy="320.4" r="2.7" fill="#d2262c" stroke="#2e0606" stroke-width="0.85"/>
<circle cx="74.6" cy="320.4" r="2.7" fill="#d2262c" stroke="#2e0606" stroke-width="0.85"/>
<circle cx="77.7" cy="322.3" r="2.7" fill="#d2262c" stroke="#2e0606" stroke-width="0.85"/>
<circle cx="67.1" cy="325.2" r="2.7" fill="#d2262c" stroke="#2e0606" stroke-width="0.85"/>
<circle cx="71.9" cy="325.2" r="2.7" fill="#d2262c" stroke="#2e0606" stroke-width="0.85"/>
<circle cx="75.8" cy="326.2" r="2.7" fill="#d2262c" stroke="#2e0606" stroke-width="0.85"/>
<circle cx="71.0" cy="329.0" r="2.7" fill="#d2262c" stroke="#2e0606" stroke-width="0.85"/>
<circle cx="72.9" cy="330.4" r="2.7" fill="#d2262c" stroke="#2e0606" stroke-width="0.85"/>
<circle cx="76.7" cy="327.7" r="2.7" fill="#d2262c" stroke="#2e0606" stroke-width="0.85"/>
<circle cx="106.2" cy="298.3" r="2.7" fill="#d2262c" stroke="#2e0606" stroke-width="0.85"/>
<circle cx="97.9" cy="306.0" r="2.7" fill="#d2262c" stroke="#2e0606" stroke-width="0.85"/>
<circle cx="101.7" cy="305.0" r="2.7" fill="#d2262c" stroke="#2e0606" stroke-width="0.85"/>
<circle cx="105.6" cy="306.0" r="2.7" fill="#d2262c" stroke="#2e0606" stroke-width="0.85"/>
<circle cx="109.4" cy="305.4" r="2.7" fill="#d2262c" stroke="#2e0606" stroke-width="0.85"/>
<circle cx="98.8" cy="309.8" r="2.7" fill="#d2262c" stroke="#2e0606" stroke-width="0.85"/>
<circle cx="104.6" cy="308.8" r="2.7" fill="#d2262c" stroke="#2e0606" stroke-width="0.85"/>
<circle cx="110.0" cy="310.4" r="2.7" fill="#d2262c" stroke="#2e0606" stroke-width="0.85"/>
<circle cx="106.4" cy="312.7" r="2.7" fill="#d2262c" stroke="#2e0606" stroke-width="0.85"/>
<circle cx="101.9" cy="313.7" r="2.7" fill="#d2262c" stroke="#2e0606" stroke-width="0.85"/>
<circle cx="107.3" cy="320.7" r="2.7" fill="#d2262c" stroke="#2e0606" stroke-width="0.85"/>
<circle cx="104.8" cy="313.7" r="2.7" fill="#d2262c" stroke="#2e0606" stroke-width="0.85"/>
<circle cx="105.8" cy="323.2" r="2.7" fill="#d2262c" stroke="#2e0606" stroke-width="0.85"/>
<circle cx="104.3" cy="318.7" r="2.7" fill="#d2262c" stroke="#2e0606" stroke-width="0.85"/>
<circle cx="96.9" cy="321.3" r="2.7" fill="#d2262c" stroke="#2e0606" stroke-width="0.85"/>
<circle cx="102.9" cy="320.4" r="2.7" fill="#d2262c" stroke="#2e0606" stroke-width="0.85"/>
<circle cx="110.1" cy="320.4" r="2.7" fill="#d2262c" stroke="#2e0606" stroke-width="0.85"/>
<circle cx="99.8" cy="324.2" r="2.7" fill="#d2262c" stroke="#2e0606" stroke-width="0.85"/>
<circle cx="105.6" cy="323.3" r="2.7" fill="#d2262c" stroke="#2e0606" stroke-width="0.85"/>
<circle cx="109.4" cy="326.2" r="2.7" fill="#d2262c" stroke="#2e0606" stroke-width="0.85"/>
<circle cx="102.7" cy="327.1" r="2.7" fill="#d2262c" stroke="#2e0606" stroke-width="0.85"/>
<circle cx="106.5" cy="330.4" r="2.7" fill="#d2262c" stroke="#2e0606" stroke-width="0.85"/>
<circle cx="104.9" cy="318.5" r="2.7" fill="#d2262c" stroke="#2e0606" stroke-width="0.85"/>
<circle cx="107.6" cy="317.5" r="2.7" fill="#d2262c" stroke="#2e0606" stroke-width="0.85"/>
<rect x="136.7" y="282.1" width="5.0" height="5.0" fill="#d2262c" stroke="#2e0606" stroke-width="0.85"/>
<rect x="132.5" y="286.9" width="5.0" height="5.0" fill="#d2262c" stroke="#2e0606" stroke-width="0.85"/>
<rect x="140.2" y="286.9" width="5.0" height="5.0" fill="#d2262c" stroke="#2e0606" stroke-width="0.85"/>
<rect x="136.7" y="290.8" width="5.0" height="5.0" fill="#d2262c" stroke="#2e0606" stroke-width="0.85"/>
<rect x="140.2" y="293.7" width="5.0" height="5.0" fill="#d2262c" stroke="#2e0606" stroke-width="0.85"/>
<rect x="129.0" y="295.5" width="5.0" height="5.0" fill="#d2262c" stroke="#2e0606" stroke-width="0.85"/>
<rect x="135.8" y="299.4" width="5.0" height="5.0" fill="#d2262c" stroke="#2e0606" stroke-width="0.85"/>
<rect x="132.9" y="303.3" width="5.0" height="5.0" fill="#d2262c" stroke="#2e0606" stroke-width="0.85"/>
<rect x="138.7" y="303.3" width="5.0" height="5.0" fill="#d2262c" stroke="#2e0606" stroke-width="0.85"/>
<rect x="135.8" y="305.2" width="5.0" height="5.0" fill="#d2262c" stroke="#2e0606" stroke-width="0.85"/>
<rect x="134.9" y="311.9" width="5.0" height="5.0" fill="#d2262c" stroke="#2e0606" stroke-width="0.85"/>
<rect x="136.4" y="316.4" width="5.0" height="5.0" fill="#d2262c" stroke="#2e0606" stroke-width="0.85"/>
<rect x="135.4" y="306.9" width="5.0" height="5.0" fill="#d2262c" stroke="#2e0606" stroke-width="0.85"/>
<rect x="137.9" y="313.9" width="5.0" height="5.0" fill="#d2262c" stroke="#2e0606" stroke-width="0.85"/>
<rect x="129.0" y="315.8" width="5.0" height="5.0" fill="#d2262c" stroke="#2e0606" stroke-width="0.85"/>
<rect x="135.0" y="312.9" width="5.0" height="5.0" fill="#d2262c" stroke="#2e0606" stroke-width="0.85"/>
<rect x="140.4" y="313.8" width="5.0" height="5.0" fill="#d2262c" stroke="#2e0606" stroke-width="0.85"/>
<rect x="131.9" y="318.7" width="5.0" height="5.0" fill="#d2262c" stroke="#2e0606" stroke-width="0.85"/>
<rect x="136.7" y="317.7" width="5.0" height="5.0" fill="#d2262c" stroke="#2e0606" stroke-width="0.85"/>
<rect x="141.5" y="318.7" width="5.0" height="5.0" fill="#d2262c" stroke="#2e0606" stroke-width="0.85"/>
<rect x="133.8" y="323.5" width="5.0" height="5.0" fill="#d2262c" stroke="#2e0606" stroke-width="0.85"/>
<rect x="139.6" y="323.5" width="5.0" height="5.0" fill="#d2262c" stroke="#2e0606" stroke-width="0.85"/>
<rect x="136.7" y="325.4" width="5.0" height="5.0" fill="#d2262c" stroke="#2e0606" stroke-width="0.85"/>
<rect x="133.1" y="310.0" width="5.0" height="5.0" fill="#d2262c" stroke="#2e0606" stroke-width="0.85"/>
<rect x="138.9" y="309.0" width="5.0" height="5.0" fill="#d2262c" stroke="#2e0606" stroke-width="0.85"/>
<rect x="169.4" y="271.5" width="5.0" height="5.0" fill="#d2262c" stroke="#2e0606" stroke-width="0.85"/>
<rect x="173.7" y="278.3" width="5.0" height="5.0" fill="#d2262c" stroke="#2e0606" stroke-width="0.85"/>
<rect x="169.4" y="283.1" width="5.0" height="5.0" fill="#d2262c" stroke="#2e0606" stroke-width="0.85"/>
<rect x="165.6" y="287.9" width="5.0" height="5.0" fill="#d2262c" stroke="#2e0606" stroke-width="0.85"/>
<rect x="173.3" y="288.8" width="5.0" height="5.0" fill="#d2262c" stroke="#2e0606" stroke-width="0.85"/>
<rect x="161.7" y="291.7" width="5.0" height="5.0" fill="#d2262c" stroke="#2e0606" stroke-width="0.85"/>
<rect x="168.5" y="292.7" width="5.0" height="5.0" fill="#d2262c" stroke="#2e0606" stroke-width="0.85"/>
<rect x="175.2" y="290.8" width="5.0" height="5.0" fill="#d2262c" stroke="#2e0606" stroke-width="0.85"/>
<rect x="166.9" y="296.5" width="5.0" height="5.0" fill="#d2262c" stroke="#2e0606" stroke-width="0.85"/>
<rect x="171.0" y="296.5" width="5.0" height="5.0" fill="#d2262c" stroke="#2e0606" stroke-width="0.85"/>
<rect x="167.9" y="302.5" width="5.0" height="5.0" fill="#d2262c" stroke="#2e0606" stroke-width="0.85"/>
<rect x="169.4" y="307.0" width="5.0" height="5.0" fill="#d2262c" stroke="#2e0606" stroke-width="0.85"/>
<rect x="168.4" y="297.5" width="5.0" height="5.0" fill="#d2262c" stroke="#2e0606" stroke-width="0.85"/>
<rect x="170.9" y="304.5" width="5.0" height="5.0" fill="#d2262c" stroke="#2e0606" stroke-width="0.85"/>
<rect x="164.6" y="303.3" width="5.0" height="5.0" fill="#d2262c" stroke="#2e0606" stroke-width="0.85"/>
<rect x="169.4" y="303.3" width="5.0" height="5.0" fill="#d2262c" stroke="#2e0606" stroke-width="0.85"/>
<rect x="174.8" y="304.2" width="5.0" height="5.0" fill="#d2262c" stroke="#2e0606" stroke-width="0.85"/>
<rect x="161.7" y="308.1" width="5.0" height="5.0" fill="#d2262c" stroke="#2e0606" stroke-width="0.85"/>
<rect x="167.5" y="309.0" width="5.0" height="5.0" fill="#d2262c" stroke="#2e0606" stroke-width="0.85"/>
<rect x="173.3" y="309.0" width="5.0" height="5.0" fill="#d2262c" stroke="#2e0606" stroke-width="0.85"/>
<rect x="165.6" y="313.8" width="5.0" height="5.0" fill="#d2262c" stroke="#2e0606" stroke-width="0.85"/>
<rect x="170.4" y="313.8" width="5.0" height="5.0" fill="#d2262c" stroke="#2e0606" stroke-width="0.85"/>
<rect x="163.7" y="315.8" width="5.0" height="5.0" fill="#d2262c" stroke="#2e0606" stroke-width="0.85"/>
<rect x="167.5" y="318.7" width="5.0" height="5.0" fill="#d2262c" stroke="#2e0606" stroke-width="0.85"/>
<rect x="172.3" y="317.7" width="5.0" height="5.0" fill="#d2262c" stroke="#2e0606" stroke-width="0.85"/>
<rect x="203.1" y="256.7" width="5.0" height="5.0" fill="#d2262c" stroke="#2e0606" stroke-width="0.85"/>
<rect x="195.4" y="274.8" width="5.0" height="5.0" fill="#d2262c" stroke="#2e0606" stroke-width="0.85"/>
<rect x="202.1" y="275.4" width="5.0" height="5.0" fill="#d2262c" stroke="#2e0606" stroke-width="0.85"/>
<rect x="206.9" y="272.5" width="5.0" height="5.0" fill="#d2262c" stroke="#2e0606" stroke-width="0.85"/>
<rect x="202.1" y="283.1" width="5.0" height="5.0" fill="#d2262c" stroke="#2e0606" stroke-width="0.85"/>
<rect x="198.3" y="287.9" width="5.0" height="5.0" fill="#d2262c" stroke="#2e0606" stroke-width="0.85"/>
<rect x="206.0" y="287.9" width="5.0" height="5.0" fill="#d2262c" stroke="#2e0606" stroke-width="0.85"/>
<rect x="194.8" y="292.7" width="5.0" height="5.0" fill="#d2262c" stroke="#2e0606" stroke-width="0.85"/>
<rect x="201.2" y="291.7" width="5.0" height="5.0" fill="#d2262c" stroke="#2e0606" stroke-width="0.85"/>
<rect x="207.2" y="293.7" width="5.0" height="5.0" fill="#d2262c" stroke="#2e0606" stroke-width="0.85"/>
<rect x="199.4" y="299.4" width="5.0" height="5.0" fill="#d2262c" stroke="#2e0606" stroke-width="0.85"/>
<rect x="201.2" y="299.6" width="5.0" height="5.0" fill="#d2262c" stroke="#2e0606" stroke-width="0.85"/>
<rect x="202.7" y="304.1" width="5.0" height="5.0" fill="#d2262c" stroke="#2e0606" stroke-width="0.85"/>
<rect x="201.7" y="294.6" width="5.0" height="5.0" fill="#d2262c" stroke="#2e0606" stroke-width="0.85"/>
<rect x="204.2" y="301.6" width="5.0" height="5.0" fill="#d2262c" stroke="#2e0606" stroke-width="0.85"/>
<rect x="204.4" y="299.4" width="5.0" height="5.0" fill="#d2262c" stroke="#2e0606" stroke-width="0.85"/>
<rect x="208.7" y="300.4" width="5.0" height="5.0" fill="#d2262c" stroke="#2e0606" stroke-width="0.85"/>
<rect x="195.4" y="306.2" width="5.0" height="5.0" fill="#d2262c" stroke="#2e0606" stroke-width="0.85"/>
<rect x="202.1" y="304.2" width="5.0" height="5.0" fill="#d2262c" stroke="#2e0606" stroke-width="0.85"/>
<rect x="206.9" y="307.1" width="5.0" height="5.0" fill="#d2262c" stroke="#2e0606" stroke-width="0.85"/>
<rect x="197.3" y="310.0" width="5.0" height="5.0" fill="#d2262c" stroke="#2e0606" stroke-width="0.85"/>
<rect x="203.1" y="311.0" width="5.0" height="5.0" fill="#d2262c" stroke="#2e0606" stroke-width="0.85"/>
<rect x="198.3" y="315.8" width="5.0" height="5.0" fill="#d2262c" stroke="#2e0606" stroke-width="0.85"/>
<rect x="205.0" y="313.8" width="5.0" height="5.0" fill="#d2262c" stroke="#2e0606" stroke-width="0.85"/>
<rect x="207.9" y="317.7" width="5.0" height="5.0" fill="#d2262c" stroke="#2e0606" stroke-width="0.85"/>
<rect x="202.1" y="319.6" width="5.0" height="5.0" fill="#d2262c" stroke="#2e0606" stroke-width="0.85"/>
<rect x="200.2" y="316.7" width="5.0" height="5.0" fill="#d2262c" stroke="#2e0606" stroke-width="0.85"/>
<line x1="28.70" y1="319.00" x2="51.20" y2="319.00" stroke="#151515" stroke-width="2.2"/>
<line x1="61.30" y1="316.50" x2="84.40" y2="316.50" stroke="#151515" stroke-width="2.2"/>
<line x1="94.00" y1="316.20" x2="116.20" y2="316.20" stroke="#151515" stroke-width="2.2"/>
<line x1="128.10" y1="311.90" x2="150.80" y2="311.90" stroke="#151515" stroke-width="2.2"/>
<line x1="161.30" y1="302.50" x2="183.80" y2="302.50" stroke="#151515" stroke-width="2.2"/>
<line x1="194.60" y1="299.60" x2="216.70" y2="299.60" stroke="#151515" stroke-width="2.2"/>
<text x="8.2" y="351.0" font-size="8.3" font-weight="bold" text-anchor="start" fill="#151515" stroke="#151515" stroke-width="0.3" textLength="123" lengthAdjust="spacingAndGlyphs" transform="rotate(-90 8.2 351.0)">anti-gp120 titer increase (  Δlog)</text>
<text x="112.8" y="368.8" font-size="9" font-weight="bold" text-anchor="start" fill="#151515" stroke="#151515" stroke-width="0.3" textLength="19.1" lengthAdjust="spacingAndGlyphs">week</text>
<text x="10.4" y="379.6" font-size="8.8" font-weight="bold" text-anchor="start" fill="#151515" stroke="#151515" stroke-width="0.3" textLength="21.8" lengthAdjust="spacingAndGlyphs">cycle:</text>
<rect x="33.50" y="371.50" width="81.90" height="12.00" fill="none" stroke="#505050" stroke-width="1.0"/>
<text x="42.1" y="381.2" font-size="9.4" font-weight="bold" text-anchor="middle" fill="#151515" stroke="#151515" stroke-width="0.3">2</text>
<text x="75.3" y="381.2" font-size="9.4" font-weight="bold" text-anchor="middle" fill="#151515" stroke="#151515" stroke-width="0.3">3</text>
<text x="107" y="381.2" font-size="9.4" font-weight="bold" text-anchor="middle" fill="#151515" stroke="#151515" stroke-width="0.3">4</text>
<rect x="136.50" y="371.60" width="83.10" height="11.60" fill="none" stroke="#505050" stroke-width="1.0"/>
<text x="176" y="380.9" font-size="9.4" font-weight="bold" text-anchor="middle" fill="#151515" stroke="#151515" stroke-width="0.3">5</text>
<line x1="318.00" y1="224.90" x2="318.00" y2="351.50" stroke="#151515" stroke-width="1.4"/>
<line x1="317.40" y1="350.90" x2="519.00" y2="350.90" stroke="#151515" stroke-width="1.4"/>
<line x1="315.50" y1="225.50" x2="318.00" y2="225.50" stroke="#151515" stroke-width="1.0"/>
<text x="314.5" y="228.92" font-size="9.5" font-weight="bold" text-anchor="end" fill="#151515" stroke="#151515" stroke-width="0.3">3</text>
<line x1="315.50" y1="256.85" x2="318.00" y2="256.85" stroke="#151515" stroke-width="1.0"/>
<text x="314.5" y="260.27000000000004" font-size="9.5" font-weight="bold" text-anchor="end" fill="#151515" stroke="#151515" stroke-width="0.3">2</text>
<line x1="315.50" y1="288.20" x2="318.00" y2="288.20" stroke="#151515" stroke-width="1.0"/>
<text x="314.5" y="291.62" font-size="9.5" font-weight="bold" text-anchor="end" fill="#151515" stroke="#151515" stroke-width="0.3">1</text>
<line x1="315.50" y1="319.55" x2="318.00" y2="319.55" stroke="#151515" stroke-width="1.0"/>
<text x="314.5" y="322.96999999999997" font-size="9.5" font-weight="bold" text-anchor="end" fill="#151515" stroke="#151515" stroke-width="0.3">0</text>
<line x1="315.50" y1="350.90" x2="318.00" y2="350.90" stroke="#151515" stroke-width="1.0"/>
<text x="314.5" y="354.32" font-size="9.5" font-weight="bold" text-anchor="end" fill="#151515" stroke="#151515" stroke-width="0.3">-1</text>
<line x1="334.70" y1="350.90" x2="334.70" y2="353.40" stroke="#151515" stroke-width="1.0"/>
<text x="334.7" y="361.5" font-size="9.3" font-weight="bold" text-anchor="middle" fill="#151515" stroke="#151515" stroke-width="0.3">12</text>
<line x1="368.40" y1="350.90" x2="368.40" y2="353.40" stroke="#151515" stroke-width="1.0"/>
<text x="368.4" y="361.5" font-size="9.3" font-weight="bold" text-anchor="middle" fill="#151515" stroke="#151515" stroke-width="0.3">22</text>
<line x1="401.20" y1="350.90" x2="401.20" y2="353.40" stroke="#151515" stroke-width="1.0"/>
<text x="401.2" y="361.5" font-size="9.3" font-weight="bold" text-anchor="middle" fill="#151515" stroke="#151515" stroke-width="0.3">32</text>
<line x1="435.00" y1="350.90" x2="435.00" y2="353.40" stroke="#151515" stroke-width="1.0"/>
<text x="435" y="361.5" font-size="9.3" font-weight="bold" text-anchor="middle" fill="#151515" stroke="#151515" stroke-width="0.3">42</text>
<line x1="468.80" y1="350.90" x2="468.80" y2="353.40" stroke="#151515" stroke-width="1.0"/>
<text x="468.8" y="361.5" font-size="9.3" font-weight="bold" text-anchor="middle" fill="#151515" stroke="#151515" stroke-width="0.3">50-59</text>
<line x1="502.00" y1="350.90" x2="502.00" y2="353.40" stroke="#151515" stroke-width="1.0"/>
<text x="502" y="361.5" font-size="9.3" font-weight="bold" text-anchor="middle" fill="#151515" stroke="#151515" stroke-width="0.3">60-69</text>
<polyline points="331.9,238.1 331.9,235.9 500.8,235.9 500.8,238.1" fill="none" stroke="#6a6a6a" stroke-width="1.1" stroke-linejoin="round" stroke-linecap="square"/>
<polyline points="331.9,257.3 331.9,255.1 469.5,255.1 469.5,257.3" fill="none" stroke="#6a6a6a" stroke-width="1.1" stroke-linejoin="round" stroke-linecap="square"/>
<polyline points="331.9,276.5 331.9,274.3 435.0,274.3 435.0,276.5" fill="none" stroke="#6a6a6a" stroke-width="1.1" stroke-linejoin="round" stroke-linecap="square"/>
<text x="380" y="232.4" font-size="10" font-weight="bold" fill="#d42a30" stroke="#d42a30" stroke-width="0.3" textLength="38.5" lengthAdjust="spacingAndGlyphs"><tspan font-style="italic">P</tspan> &lt; .001</text>
<text x="370.4" y="250.7" font-size="10" font-weight="bold" fill="#d42a30" stroke="#d42a30" stroke-width="0.3" textLength="38.4" lengthAdjust="spacingAndGlyphs"><tspan font-style="italic">P</tspan> &lt; .001</text>
<text x="360" y="270.9" font-size="10" font-weight="bold" fill="#d42a30" stroke="#d42a30" stroke-width="0.3" textLength="34.6" lengthAdjust="spacingAndGlyphs"><tspan font-style="italic">P</tspan> &lt; .05</text>
<polyline points="334.2,335.9 334.2,338.1 408.1,338.1 408.1,335.9" fill="none" stroke="#6a6a6a" stroke-width="1.1" stroke-linejoin="round"/>
<text x="355.5" y="348.5" font-size="10.5" font-weight="bold" text-anchor="start" fill="#151515" stroke="#151515" stroke-width="0.3" textLength="31.4" lengthAdjust="spacingAndGlyphs">all n.s.</text>
<circle cx="334.6" cy="289.2" r="2.7" fill="#78ad3c" stroke="#1e3a0a" stroke-width="0.85"/>
<circle cx="339.0" cy="293.1" r="2.7" fill="#78ad3c" stroke="#1e3a0a" stroke-width="0.85"/>
<circle cx="326.9" cy="296.9" r="2.7" fill="#78ad3c" stroke="#1e3a0a" stroke-width="0.85"/>
<circle cx="334.2" cy="299.2" r="2.7" fill="#78ad3c" stroke="#1e3a0a" stroke-width="0.85"/>
<circle cx="335.2" cy="304.0" r="2.7" fill="#78ad3c" stroke="#1e3a0a" stroke-width="0.85"/>
<circle cx="331.3" cy="306.0" r="2.7" fill="#78ad3c" stroke="#1e3a0a" stroke-width="0.85"/>
<circle cx="338.1" cy="306.9" r="2.7" fill="#78ad3c" stroke="#1e3a0a" stroke-width="0.85"/>
<circle cx="330.4" cy="309.8" r="2.7" fill="#78ad3c" stroke="#1e3a0a" stroke-width="0.85"/>
<circle cx="336.1" cy="310.8" r="2.7" fill="#78ad3c" stroke="#1e3a0a" stroke-width="0.85"/>
<circle cx="339.0" cy="309.8" r="2.7" fill="#78ad3c" stroke="#1e3a0a" stroke-width="0.85"/>
<circle cx="333.2" cy="317.7" r="2.7" fill="#78ad3c" stroke="#1e3a0a" stroke-width="0.85"/>
<circle cx="334.7" cy="322.2" r="2.7" fill="#78ad3c" stroke="#1e3a0a" stroke-width="0.85"/>
<circle cx="333.7" cy="312.7" r="2.7" fill="#78ad3c" stroke="#1e3a0a" stroke-width="0.85"/>
<circle cx="336.2" cy="319.7" r="2.7" fill="#78ad3c" stroke="#1e3a0a" stroke-width="0.85"/>
<circle cx="330.5" cy="315.6" r="2.7" fill="#78ad3c" stroke="#1e3a0a" stroke-width="0.85"/>
<circle cx="333.9" cy="314.6" r="2.7" fill="#78ad3c" stroke="#1e3a0a" stroke-width="0.85"/>
<circle cx="336.7" cy="315.6" r="2.7" fill="#78ad3c" stroke="#1e3a0a" stroke-width="0.85"/>
<circle cx="330.2" cy="318.5" r="2.7" fill="#78ad3c" stroke="#1e3a0a" stroke-width="0.85"/>
<circle cx="334.2" cy="319.4" r="2.7" fill="#78ad3c" stroke="#1e3a0a" stroke-width="0.85"/>
<circle cx="339.2" cy="318.5" r="2.7" fill="#78ad3c" stroke="#1e3a0a" stroke-width="0.85"/>
<circle cx="330.4" cy="323.3" r="2.7" fill="#78ad3c" stroke="#1e3a0a" stroke-width="0.85"/>
<circle cx="335.2" cy="322.3" r="2.7" fill="#78ad3c" stroke="#1e3a0a" stroke-width="0.85"/>
<circle cx="339.0" cy="324.2" r="2.7" fill="#78ad3c" stroke="#1e3a0a" stroke-width="0.85"/>
<circle cx="332.3" cy="326.2" r="2.7" fill="#78ad3c" stroke="#1e3a0a" stroke-width="0.85"/>
<circle cx="336.2" cy="327.1" r="2.7" fill="#78ad3c" stroke="#1e3a0a" stroke-width="0.85"/>
<circle cx="371.7" cy="284.8" r="2.7" fill="#78ad3c" stroke="#1e3a0a" stroke-width="0.85"/>
<circle cx="367.9" cy="289.2" r="2.7" fill="#78ad3c" stroke="#1e3a0a" stroke-width="0.85"/>
<circle cx="364.6" cy="294.4" r="2.7" fill="#78ad3c" stroke="#1e3a0a" stroke-width="0.85"/>
<circle cx="360.8" cy="299.6" r="2.7" fill="#78ad3c" stroke="#1e3a0a" stroke-width="0.85"/>
<circle cx="367.9" cy="300.8" r="2.7" fill="#78ad3c" stroke="#1e3a0a" stroke-width="0.85"/>
<circle cx="371.7" cy="298.8" r="2.7" fill="#78ad3c" stroke="#1e3a0a" stroke-width="0.85"/>
<circle cx="365.0" cy="306.9" r="2.7" fill="#78ad3c" stroke="#1e3a0a" stroke-width="0.85"/>
<circle cx="371.2" cy="308.8" r="2.7" fill="#78ad3c" stroke="#1e3a0a" stroke-width="0.85"/>
<circle cx="363.7" cy="310.8" r="2.7" fill="#78ad3c" stroke="#1e3a0a" stroke-width="0.85"/>
<circle cx="369.9" cy="319.1" r="2.7" fill="#78ad3c" stroke="#1e3a0a" stroke-width="0.85"/>
<circle cx="367.4" cy="312.1" r="2.7" fill="#78ad3c" stroke="#1e3a0a" stroke-width="0.85"/>
<circle cx="368.4" cy="321.6" r="2.7" fill="#78ad3c" stroke="#1e3a0a" stroke-width="0.85"/>
<circle cx="366.9" cy="317.1" r="2.7" fill="#78ad3c" stroke="#1e3a0a" stroke-width="0.85"/>
<circle cx="368.0" cy="311.7" r="2.7" fill="#78ad3c" stroke="#1e3a0a" stroke-width="0.85"/>
<circle cx="363.8" cy="315.6" r="2.7" fill="#78ad3c" stroke="#1e3a0a" stroke-width="0.85"/>
<circle cx="366.9" cy="315.6" r="2.7" fill="#78ad3c" stroke="#1e3a0a" stroke-width="0.85"/>
<circle cx="370.1" cy="316.5" r="2.7" fill="#78ad3c" stroke="#1e3a0a" stroke-width="0.85"/>
<circle cx="364.0" cy="320.4" r="2.7" fill="#78ad3c" stroke="#1e3a0a" stroke-width="0.85"/>
<circle cx="368.8" cy="319.4" r="2.7" fill="#78ad3c" stroke="#1e3a0a" stroke-width="0.85"/>
<circle cx="363.1" cy="324.2" r="2.7" fill="#78ad3c" stroke="#1e3a0a" stroke-width="0.85"/>
<circle cx="366.9" cy="325.2" r="2.7" fill="#78ad3c" stroke="#1e3a0a" stroke-width="0.85"/>
<circle cx="370.8" cy="325.2" r="2.7" fill="#78ad3c" stroke="#1e3a0a" stroke-width="0.85"/>
<circle cx="393.8" cy="287.3" r="2.7" fill="#78ad3c" stroke="#1e3a0a" stroke-width="0.85"/>
<circle cx="401.5" cy="289.6" r="2.7" fill="#78ad3c" stroke="#1e3a0a" stroke-width="0.85"/>
<circle cx="397.7" cy="300.2" r="2.7" fill="#78ad3c" stroke="#1e3a0a" stroke-width="0.85"/>
<circle cx="402.5" cy="299.2" r="2.7" fill="#78ad3c" stroke="#1e3a0a" stroke-width="0.85"/>
<circle cx="405.4" cy="303.1" r="2.7" fill="#78ad3c" stroke="#1e3a0a" stroke-width="0.85"/>
<circle cx="400.6" cy="304.0" r="2.7" fill="#78ad3c" stroke="#1e3a0a" stroke-width="0.85"/>
<circle cx="395.2" cy="311.7" r="2.7" fill="#78ad3c" stroke="#1e3a0a" stroke-width="0.85"/>
<circle cx="399.6" cy="309.8" r="2.7" fill="#78ad3c" stroke="#1e3a0a" stroke-width="0.85"/>
<circle cx="403.8" cy="311.7" r="2.7" fill="#78ad3c" stroke="#1e3a0a" stroke-width="0.85"/>
<circle cx="398.4" cy="313.7" r="2.7" fill="#78ad3c" stroke="#1e3a0a" stroke-width="0.85"/>
<circle cx="402.7" cy="319.1" r="2.7" fill="#78ad3c" stroke="#1e3a0a" stroke-width="0.85"/>
<circle cx="400.2" cy="312.1" r="2.7" fill="#78ad3c" stroke="#1e3a0a" stroke-width="0.85"/>
<circle cx="401.2" cy="321.6" r="2.7" fill="#78ad3c" stroke="#1e3a0a" stroke-width="0.85"/>
<circle cx="399.7" cy="317.1" r="2.7" fill="#78ad3c" stroke="#1e3a0a" stroke-width="0.85"/>
<circle cx="394.5" cy="316.5" r="2.7" fill="#78ad3c" stroke="#1e3a0a" stroke-width="0.85"/>
<circle cx="401.4" cy="316.5" r="2.7" fill="#78ad3c" stroke="#1e3a0a" stroke-width="0.85"/>
<circle cx="405.0" cy="318.5" r="2.7" fill="#78ad3c" stroke="#1e3a0a" stroke-width="0.85"/>
<circle cx="394.8" cy="320.4" r="2.7" fill="#78ad3c" stroke="#1e3a0a" stroke-width="0.85"/>
<circle cx="399.6" cy="320.4" r="2.7" fill="#78ad3c" stroke="#1e3a0a" stroke-width="0.85"/>
<circle cx="404.4" cy="321.3" r="2.7" fill="#78ad3c" stroke="#1e3a0a" stroke-width="0.85"/>
<circle cx="393.8" cy="325.2" r="2.7" fill="#78ad3c" stroke="#1e3a0a" stroke-width="0.85"/>
<circle cx="398.7" cy="326.2" r="2.7" fill="#78ad3c" stroke="#1e3a0a" stroke-width="0.85"/>
<circle cx="403.5" cy="326.2" r="2.7" fill="#78ad3c" stroke="#1e3a0a" stroke-width="0.85"/>
<circle cx="401.5" cy="335.8" r="2.7" fill="#78ad3c" stroke="#1e3a0a" stroke-width="0.85"/>
<rect x="432.3" y="266.2" width="5.0" height="5.0" fill="#78ad3c" stroke="#1e3a0a" stroke-width="0.85"/>
<rect x="429.1" y="272.2" width="5.0" height="5.0" fill="#78ad3c" stroke="#1e3a0a" stroke-width="0.85"/>
<rect x="435.9" y="276.9" width="5.0" height="5.0" fill="#78ad3c" stroke="#1e3a0a" stroke-width="0.85"/>
<rect x="431.8" y="278.9" width="5.0" height="5.0" fill="#78ad3c" stroke="#1e3a0a" stroke-width="0.85"/>
<rect x="436.3" y="281.9" width="5.0" height="5.0" fill="#78ad3c" stroke="#1e3a0a" stroke-width="0.85"/>
<rect x="425.8" y="282.3" width="5.0" height="5.0" fill="#78ad3c" stroke="#1e3a0a" stroke-width="0.85"/>
<rect x="432.7" y="287.0" width="5.0" height="5.0" fill="#78ad3c" stroke="#1e3a0a" stroke-width="0.85"/>
<rect x="429.1" y="291.0" width="5.0" height="5.0" fill="#78ad3c" stroke="#1e3a0a" stroke-width="0.85"/>
<rect x="435.4" y="290.0" width="5.0" height="5.0" fill="#78ad3c" stroke="#1e3a0a" stroke-width="0.85"/>
<rect x="425.4" y="296.1" width="5.0" height="5.0" fill="#78ad3c" stroke="#1e3a0a" stroke-width="0.85"/>
<rect x="431.8" y="295.1" width="5.0" height="5.0" fill="#78ad3c" stroke="#1e3a0a" stroke-width="0.85"/>
<rect x="436.3" y="297.1" width="5.0" height="5.0" fill="#78ad3c" stroke="#1e3a0a" stroke-width="0.85"/>
<rect x="428.1" y="300.1" width="5.0" height="5.0" fill="#78ad3c" stroke="#1e3a0a" stroke-width="0.85"/>
<rect x="432.6" y="300.1" width="5.0" height="5.0" fill="#78ad3c" stroke="#1e3a0a" stroke-width="0.85"/>
<rect x="435.3" y="301.1" width="5.0" height="5.0" fill="#78ad3c" stroke="#1e3a0a" stroke-width="0.85"/>
<rect x="430.4" y="306.2" width="5.0" height="5.0" fill="#78ad3c" stroke="#1e3a0a" stroke-width="0.85"/>
<rect x="434.3" y="307.2" width="5.0" height="5.0" fill="#78ad3c" stroke="#1e3a0a" stroke-width="0.85"/>
<rect x="427.2" y="310.2" width="5.0" height="5.0" fill="#78ad3c" stroke="#1e3a0a" stroke-width="0.85"/>
<rect x="432.7" y="311.2" width="5.0" height="5.0" fill="#78ad3c" stroke="#1e3a0a" stroke-width="0.85"/>
<rect x="436.3" y="310.2" width="5.0" height="5.0" fill="#78ad3c" stroke="#1e3a0a" stroke-width="0.85"/>
<rect x="425.4" y="318.3" width="5.0" height="5.0" fill="#78ad3c" stroke="#1e3a0a" stroke-width="0.85"/>
<rect x="430.9" y="318.3" width="5.0" height="5.0" fill="#78ad3c" stroke="#1e3a0a" stroke-width="0.85"/>
<rect x="436.3" y="317.3" width="5.0" height="5.0" fill="#78ad3c" stroke="#1e3a0a" stroke-width="0.85"/>
<rect x="428.1" y="322.3" width="5.0" height="5.0" fill="#78ad3c" stroke="#1e3a0a" stroke-width="0.85"/>
<rect x="433.6" y="323.3" width="5.0" height="5.0" fill="#78ad3c" stroke="#1e3a0a" stroke-width="0.85"/>
<rect x="436.3" y="325.3" width="5.0" height="5.0" fill="#78ad3c" stroke="#1e3a0a" stroke-width="0.85"/>
<rect x="466.0" y="245.2" width="5.0" height="5.0" fill="#78ad3c" stroke="#1e3a0a" stroke-width="0.85"/>
<rect x="462.6" y="262.7" width="5.0" height="5.0" fill="#78ad3c" stroke="#1e3a0a" stroke-width="0.85"/>
<rect x="469.0" y="265.4" width="5.0" height="5.0" fill="#78ad3c" stroke="#1e3a0a" stroke-width="0.85"/>
<rect x="465.2" y="267.8" width="5.0" height="5.0" fill="#78ad3c" stroke="#1e3a0a" stroke-width="0.85"/>
<rect x="460.0" y="274.9" width="5.0" height="5.0" fill="#78ad3c" stroke="#1e3a0a" stroke-width="0.85"/>
<rect x="466.0" y="273.8" width="5.0" height="5.0" fill="#78ad3c" stroke="#1e3a0a" stroke-width="0.85"/>
<rect x="470.4" y="272.8" width="5.0" height="5.0" fill="#78ad3c" stroke="#1e3a0a" stroke-width="0.85"/>
<rect x="462.6" y="279.9" width="5.0" height="5.0" fill="#78ad3c" stroke="#1e3a0a" stroke-width="0.85"/>
<rect x="467.7" y="280.9" width="5.0" height="5.0" fill="#78ad3c" stroke="#1e3a0a" stroke-width="0.85"/>
<rect x="459.8" y="286.0" width="5.0" height="5.0" fill="#78ad3c" stroke="#1e3a0a" stroke-width="0.85"/>
<rect x="465.3" y="286.0" width="5.0" height="5.0" fill="#78ad3c" stroke="#1e3a0a" stroke-width="0.85"/>
<rect x="470.4" y="285.0" width="5.0" height="5.0" fill="#78ad3c" stroke="#1e3a0a" stroke-width="0.85"/>
<rect x="463.0" y="292.0" width="5.0" height="5.0" fill="#78ad3c" stroke="#1e3a0a" stroke-width="0.85"/>
<rect x="466.8" y="294.0" width="5.0" height="5.0" fill="#78ad3c" stroke="#1e3a0a" stroke-width="0.85"/>
<rect x="470.4" y="296.1" width="5.0" height="5.0" fill="#78ad3c" stroke="#1e3a0a" stroke-width="0.85"/>
<rect x="459.2" y="298.1" width="5.0" height="5.0" fill="#78ad3c" stroke="#1e3a0a" stroke-width="0.85"/>
<rect x="465.2" y="300.1" width="5.0" height="5.0" fill="#78ad3c" stroke="#1e3a0a" stroke-width="0.85"/>
<rect x="469.5" y="302.1" width="5.0" height="5.0" fill="#78ad3c" stroke="#1e3a0a" stroke-width="0.85"/>
<rect x="459.2" y="307.2" width="5.0" height="5.0" fill="#78ad3c" stroke="#1e3a0a" stroke-width="0.85"/>
<rect x="464.3" y="307.2" width="5.0" height="5.0" fill="#78ad3c" stroke="#1e3a0a" stroke-width="0.85"/>
<rect x="469.5" y="307.2" width="5.0" height="5.0" fill="#78ad3c" stroke="#1e3a0a" stroke-width="0.85"/>
<rect x="462.6" y="311.2" width="5.0" height="5.0" fill="#78ad3c" stroke="#1e3a0a" stroke-width="0.85"/>
<rect x="466.9" y="311.2" width="5.0" height="5.0" fill="#78ad3c" stroke="#1e3a0a" stroke-width="0.85"/>
<rect x="466.0" y="316.3" width="5.0" height="5.0" fill="#78ad3c" stroke="#1e3a0a" stroke-width="0.85"/>
<rect x="464.5" y="292.5" width="5.0" height="5.0" fill="#78ad3c" stroke="#1e3a0a" stroke-width="0.85"/>
<rect x="468.1" y="294.5" width="5.0" height="5.0" fill="#78ad3c" stroke="#1e3a0a" stroke-width="0.85"/>
<rect x="465.6" y="297.5" width="5.0" height="5.0" fill="#78ad3c" stroke="#1e3a0a" stroke-width="0.85"/>
<rect x="463.1" y="301.5" width="5.0" height="5.0" fill="#78ad3c" stroke="#1e3a0a" stroke-width="0.85"/>
<rect x="467.3" y="303.5" width="5.0" height="5.0" fill="#78ad3c" stroke="#1e3a0a" stroke-width="0.85"/>
<rect x="499.3" y="244.0" width="5.0" height="5.0" fill="#78ad3c" stroke="#1e3a0a" stroke-width="0.85"/>
<rect x="499.3" y="256.1" width="5.0" height="5.0" fill="#78ad3c" stroke="#1e3a0a" stroke-width="0.85"/>
<rect x="493.4" y="260.7" width="5.0" height="5.0" fill="#78ad3c" stroke="#1e3a0a" stroke-width="0.85"/>
<rect x="502.8" y="260.1" width="5.0" height="5.0" fill="#78ad3c" stroke="#1e3a0a" stroke-width="0.85"/>
<rect x="498.5" y="264.8" width="5.0" height="5.0" fill="#78ad3c" stroke="#1e3a0a" stroke-width="0.85"/>
<rect x="495.9" y="268.8" width="5.0" height="5.0" fill="#78ad3c" stroke="#1e3a0a" stroke-width="0.85"/>
<rect x="501.1" y="270.8" width="5.0" height="5.0" fill="#78ad3c" stroke="#1e3a0a" stroke-width="0.85"/>
<rect x="503.7" y="273.8" width="5.0" height="5.0" fill="#78ad3c" stroke="#1e3a0a" stroke-width="0.85"/>
<rect x="498.5" y="275.9" width="5.0" height="5.0" fill="#78ad3c" stroke="#1e3a0a" stroke-width="0.85"/>
<rect x="493.4" y="280.9" width="5.0" height="5.0" fill="#78ad3c" stroke="#1e3a0a" stroke-width="0.85"/>
<rect x="499.3" y="279.9" width="5.0" height="5.0" fill="#78ad3c" stroke="#1e3a0a" stroke-width="0.85"/>
<rect x="503.7" y="279.9" width="5.0" height="5.0" fill="#78ad3c" stroke="#1e3a0a" stroke-width="0.85"/>
<rect x="500.8" y="283.9" width="5.0" height="5.0" fill="#78ad3c" stroke="#1e3a0a" stroke-width="0.85"/>
<rect x="496.7" y="283.9" width="5.0" height="5.0" fill="#78ad3c" stroke="#1e3a0a" stroke-width="0.85"/>
<rect x="498.5" y="292.0" width="5.0" height="5.0" fill="#78ad3c" stroke="#1e3a0a" stroke-width="0.85"/>
<rect x="503.7" y="293.0" width="5.0" height="5.0" fill="#78ad3c" stroke="#1e3a0a" stroke-width="0.85"/>
<rect x="495.1" y="296.1" width="5.0" height="5.0" fill="#78ad3c" stroke="#1e3a0a" stroke-width="0.85"/>
<rect x="502.0" y="297.1" width="5.0" height="5.0" fill="#78ad3c" stroke="#1e3a0a" stroke-width="0.85"/>
<rect x="497.6" y="301.1" width="5.0" height="5.0" fill="#78ad3c" stroke="#1e3a0a" stroke-width="0.85"/>
<rect x="502.8" y="302.1" width="5.0" height="5.0" fill="#78ad3c" stroke="#1e3a0a" stroke-width="0.85"/>
<rect x="493.4" y="305.2" width="5.0" height="5.0" fill="#78ad3c" stroke="#1e3a0a" stroke-width="0.85"/>
<rect x="499.3" y="307.2" width="5.0" height="5.0" fill="#78ad3c" stroke="#1e3a0a" stroke-width="0.85"/>
<rect x="504.5" y="307.2" width="5.0" height="5.0" fill="#78ad3c" stroke="#1e3a0a" stroke-width="0.85"/>
<rect x="495.9" y="310.2" width="5.0" height="5.0" fill="#78ad3c" stroke="#1e3a0a" stroke-width="0.85"/>
<rect x="501.1" y="312.2" width="5.0" height="5.0" fill="#78ad3c" stroke="#1e3a0a" stroke-width="0.85"/>
<rect x="503.7" y="314.2" width="5.0" height="5.0" fill="#78ad3c" stroke="#1e3a0a" stroke-width="0.85"/>
<rect x="499.3" y="318.3" width="5.0" height="5.0" fill="#78ad3c" stroke="#1e3a0a" stroke-width="0.85"/>
<line x1="323.10" y1="315.20" x2="345.80" y2="315.20" stroke="#151515" stroke-width="2.2"/>
<line x1="356.90" y1="314.60" x2="379.40" y2="314.60" stroke="#151515" stroke-width="2.2"/>
<line x1="390.00" y1="314.60" x2="413.00" y2="314.60" stroke="#151515" stroke-width="2.2"/>
<line x1="423.50" y1="305.60" x2="446.30" y2="305.60" stroke="#151515" stroke-width="2.2"/>
<line x1="457.00" y1="292.50" x2="479.20" y2="292.50" stroke="#151515" stroke-width="2.2"/>
<line x1="490.70" y1="289.10" x2="512.90" y2="289.10" stroke="#151515" stroke-width="2.2"/>
<text x="303.8" y="351.0" font-size="8.9" font-weight="bold" text-anchor="start" fill="#151515" stroke="#151515" stroke-width="0.3" textLength="128" lengthAdjust="spacingAndGlyphs" transform="rotate(-90 303.8 351.0)">anti-p24 titer increase ( Δlog)</text>
<text x="408.8" y="368.5" font-size="9" font-weight="bold" text-anchor="start" fill="#151515" stroke="#151515" stroke-width="0.3" textLength="18.7" lengthAdjust="spacingAndGlyphs">week</text>
<text x="303.8" y="377.3" font-size="8.6" font-weight="bold" text-anchor="start" fill="#151515" stroke="#151515" stroke-width="0.3" textLength="20.7" lengthAdjust="spacingAndGlyphs">cycle:</text>
<rect x="325.70" y="369.20" width="84.70" height="12.00" fill="none" stroke="#505050" stroke-width="1.0"/>
<text x="334.7" y="378.9" font-size="9.5" font-weight="bold" text-anchor="middle" fill="#151515" stroke="#151515" stroke-width="0.3">2</text>
<text x="368.4" y="378.9" font-size="9.5" font-weight="bold" text-anchor="middle" fill="#151515" stroke="#151515" stroke-width="0.3">3</text>
<text x="400.7" y="378.9" font-size="9.5" font-weight="bold" text-anchor="middle" fill="#151515" stroke="#151515" stroke-width="0.3">4</text>
<rect x="430.00" y="370.00" width="84.50" height="11.30" fill="none" stroke="#505050" stroke-width="1.0"/>
<text x="469.5" y="379.0" font-size="9.5" font-weight="bold" text-anchor="middle" fill="#151515" stroke="#151515" stroke-width="0.3">5</text>
<text x="0.8" y="417.5" font-size="17.5" font-weight="bold" text-anchor="start" fill="#151515" stroke="#151515" stroke-width="0.3">C</text>
<rect x="19.2" y="443" width="2.5" height="87.2" fill="#8a8380"/>
<polygon points="20.6,427.9 27.1,444 14.2,444" fill="#8a8380"/>
<rect x="19.7" y="534.8" width="481" height="2.3" fill="#8a8380"/>
<polygon points="516.8,535.9 499,529.5 499,542.3" fill="#8a8380"/>
<text x="10.2" y="501.8" font-size="11.2" font-weight="bold" text-anchor="start" fill="#151515" stroke="#151515" stroke-width="0.3" textLength="50" lengthAdjust="spacing" transform="rotate(-90 10.2 501.8)">anti-p24</text>
<text x="219.2" y="558.4" font-size="12.4" font-weight="bold" text-anchor="start" fill="#151515" stroke="#151515" stroke-width="0.3" textLength="67" lengthAdjust="spacingAndGlyphs">anti-gp120</text>
<line x1="42.70" y1="434.60" x2="42.70" y2="516.90" stroke="#151515" stroke-width="1.3"/>
<line x1="42.10" y1="516.30" x2="162.70" y2="516.30" stroke="#151515" stroke-width="1.3"/>
<line x1="39.90" y1="516.30" x2="42.70" y2="516.30" stroke="#151515" stroke-width="1.1"/>
<text x="39.300000000000004" y="519.5" font-size="9.6" font-weight="bold" text-anchor="end" fill="#151515" stroke="#151515" stroke-width="0.3">0</text>
<line x1="39.90" y1="502.78" x2="42.70" y2="502.78" stroke="#151515" stroke-width="1.1"/>
<text x="39.300000000000004" y="505.9833333333333" font-size="9.6" font-weight="bold" text-anchor="end" fill="#151515" stroke="#151515" stroke-width="0.3">1</text>
<line x1="39.90" y1="489.27" x2="42.70" y2="489.27" stroke="#151515" stroke-width="1.1"/>
<text x="39.300000000000004" y="492.46666666666664" font-size="9.6" font-weight="bold" text-anchor="end" fill="#151515" stroke="#151515" stroke-width="0.3">2</text>
<line x1="39.90" y1="475.75" x2="42.70" y2="475.75" stroke="#151515" stroke-width="1.1"/>
<text x="39.300000000000004" y="478.95" font-size="9.6" font-weight="bold" text-anchor="end" fill="#151515" stroke="#151515" stroke-width="0.3">3</text>
<line x1="39.90" y1="462.23" x2="42.70" y2="462.23" stroke="#151515" stroke-width="1.1"/>
<text x="39.300000000000004" y="465.4333333333333" font-size="9.6" font-weight="bold" text-anchor="end" fill="#151515" stroke="#151515" stroke-width="0.3">4</text>
<line x1="39.90" y1="448.72" x2="42.70" y2="448.72" stroke="#151515" stroke-width="1.1"/>
<text x="39.300000000000004" y="451.91666666666663" font-size="9.6" font-weight="bold" text-anchor="end" fill="#151515" stroke="#151515" stroke-width="0.3">5</text>
<line x1="39.90" y1="435.20" x2="42.70" y2="435.20" stroke="#151515" stroke-width="1.1"/>
<text x="39.300000000000004" y="438.4" font-size="9.6" font-weight="bold" text-anchor="end" fill="#151515" stroke="#151515" stroke-width="0.3">6</text>
<line x1="42.70" y1="516.30" x2="42.70" y2="519.10" stroke="#151515" stroke-width="1.1"/>
<text x="42.7" y="528.3" font-size="9.6" font-weight="bold" text-anchor="middle" fill="#151515" stroke="#151515" stroke-width="0.3">0</text>
<line x1="62.70" y1="516.30" x2="62.70" y2="519.10" stroke="#151515" stroke-width="1.1"/>
<text x="62.7" y="528.3" font-size="9.6" font-weight="bold" text-anchor="middle" fill="#151515" stroke="#151515" stroke-width="0.3">1</text>
<line x1="82.70" y1="516.30" x2="82.70" y2="519.10" stroke="#151515" stroke-width="1.1"/>
<text x="82.69999999999999" y="528.3" font-size="9.6" font-weight="bold" text-anchor="middle" fill="#151515" stroke="#151515" stroke-width="0.3">2</text>
<line x1="102.70" y1="516.30" x2="102.70" y2="519.10" stroke="#151515" stroke-width="1.1"/>
<text x="102.69999999999999" y="528.3" font-size="9.6" font-weight="bold" text-anchor="middle" fill="#151515" stroke="#151515" stroke-width="0.3">3</text>
<line x1="122.70" y1="516.30" x2="122.70" y2="519.10" stroke="#151515" stroke-width="1.1"/>
<text x="122.69999999999999" y="528.3" font-size="9.6" font-weight="bold" text-anchor="middle" fill="#151515" stroke="#151515" stroke-width="0.3">4</text>
<line x1="142.70" y1="516.30" x2="142.70" y2="519.10" stroke="#151515" stroke-width="1.1"/>
<text x="142.7" y="528.3" font-size="9.6" font-weight="bold" text-anchor="middle" fill="#151515" stroke="#151515" stroke-width="0.3">5</text>
<line x1="162.70" y1="516.30" x2="162.70" y2="519.10" stroke="#151515" stroke-width="1.1"/>
<text x="162.7" y="528.3" font-size="9.6" font-weight="bold" text-anchor="middle" fill="#151515" stroke="#151515" stroke-width="0.3">6</text>
<text x="61.9" y="426.2" font-size="12" font-weight="bold" text-anchor="start" fill="#7f7977" stroke="#7f7977" stroke-width="0.3" textLength="92.9" lengthAdjust="spacing" stroke-opacity="0.35">baseline titers</text>
<text x="108" y="440.1" font-size="8.8" font-weight="bold" text-anchor="middle" fill="#8a8482" stroke="#8a8482" stroke-width="0.3" textLength="20.6" lengthAdjust="spacingAndGlyphs">(log)</text>
<text x="45.9" y="472.8" font-size="19.5" font-weight="bold" text-anchor="start" fill="#807a78" stroke="#807a78" stroke-width="0.3" textLength="34.2" lengthAdjust="spacingAndGlyphs" stroke-opacity="0">n.s.</text>
<circle cx="90.0" cy="456.1" r="2.3" fill="#111" stroke="none" stroke-width="0"/>
<circle cx="123.1" cy="455.8" r="2.3" fill="#111" stroke="none" stroke-width="0"/>
<circle cx="108.8" cy="465.5" r="2.3" fill="#111" stroke="none" stroke-width="0"/>
<circle cx="111.2" cy="469.9" r="2.3" fill="#111" stroke="none" stroke-width="0"/>
<circle cx="121.1" cy="472.4" r="2.3" fill="#111" stroke="none" stroke-width="0"/>
<circle cx="137.7" cy="470.8" r="2.3" fill="#111" stroke="none" stroke-width="0"/>
<circle cx="129.2" cy="474.7" r="2.3" fill="#111" stroke="none" stroke-width="0"/>
<circle cx="99.2" cy="474.2" r="2.3" fill="#111" stroke="none" stroke-width="0"/>
<circle cx="101.5" cy="477.3" r="2.3" fill="#111" stroke="none" stroke-width="0"/>
<circle cx="90.0" cy="478.1" r="2.3" fill="#111" stroke="none" stroke-width="0"/>
<circle cx="95.4" cy="478.1" r="2.3" fill="#111" stroke="none" stroke-width="0"/>
<circle cx="107.7" cy="478.1" r="2.3" fill="#111" stroke="none" stroke-width="0"/>
<circle cx="109.2" cy="479.6" r="2.3" fill="#111" stroke="none" stroke-width="0"/>
<circle cx="106.9" cy="481.9" r="2.3" fill="#111" stroke="none" stroke-width="0"/>
<circle cx="111.5" cy="477.3" r="2.3" fill="#111" stroke="none" stroke-width="0"/>
<circle cx="113.1" cy="481.2" r="2.3" fill="#111" stroke="none" stroke-width="0"/>
<circle cx="109.2" cy="482.7" r="2.3" fill="#111" stroke="none" stroke-width="0"/>
<circle cx="119.2" cy="479.6" r="2.3" fill="#111" stroke="none" stroke-width="0"/>
<circle cx="88.5" cy="486.5" r="2.3" fill="#111" stroke="none" stroke-width="0"/>
<circle cx="81.5" cy="489.3" r="2.3" fill="#111" stroke="none" stroke-width="0"/>
<circle cx="98.5" cy="488.1" r="2.3" fill="#111" stroke="none" stroke-width="0"/>
<circle cx="121.5" cy="487.8" r="2.3" fill="#111" stroke="none" stroke-width="0"/>
<circle cx="118.5" cy="490.4" r="2.3" fill="#111" stroke="none" stroke-width="0"/>
<circle cx="90.8" cy="494.5" r="2.3" fill="#111" stroke="none" stroke-width="0"/>
<circle cx="116.2" cy="494.2" r="2.3" fill="#111" stroke="none" stroke-width="0"/>
<circle cx="120.0" cy="495.8" r="2.3" fill="#111" stroke="none" stroke-width="0"/>
<circle cx="96.2" cy="495.8" r="2.3" fill="#111" stroke="none" stroke-width="0"/>
<circle cx="99.2" cy="497.0" r="2.3" fill="#111" stroke="none" stroke-width="0"/>
<circle cx="103.1" cy="498.1" r="2.3" fill="#111" stroke="none" stroke-width="0"/>
<circle cx="88.5" cy="498.5" r="2.3" fill="#111" stroke="none" stroke-width="0"/>
<circle cx="76.2" cy="502.7" r="2.3" fill="#111" stroke="none" stroke-width="0"/>
<circle cx="84.6" cy="502.7" r="2.3" fill="#111" stroke="none" stroke-width="0"/>
<circle cx="93.1" cy="502.7" r="2.3" fill="#111" stroke="none" stroke-width="0"/>
<circle cx="97.7" cy="502.7" r="2.3" fill="#111" stroke="none" stroke-width="0"/>
<circle cx="103.8" cy="501.2" r="2.3" fill="#111" stroke="none" stroke-width="0"/>
<circle cx="106.2" cy="502.3" r="2.3" fill="#111" stroke="none" stroke-width="0"/>
<circle cx="109.2" cy="502.7" r="2.3" fill="#111" stroke="none" stroke-width="0"/>
<circle cx="110.8" cy="502.7" r="2.3" fill="#111" stroke="none" stroke-width="0"/>
<circle cx="118.5" cy="502.7" r="2.3" fill="#111" stroke="none" stroke-width="0"/>
<circle cx="122.3" cy="501.9" r="2.3" fill="#111" stroke="none" stroke-width="0"/>
<line x1="75.40" y1="495.00" x2="138.50" y2="477.80" stroke="#151515" stroke-width="1.7"/>
<polyline points="75.4,485.3 77.5,485.3 79.6,485.2 81.7,485.2 83.8,485.2 85.9,485.1 88.0,485.0 90.1,485.0 92.2,484.8 94.3,484.7 96.4,484.5 98.5,484.3 100.6,484.0 102.7,483.6 104.8,483.1 107.0,482.6 109.1,482.0 111.2,481.2 113.3,480.4 115.4,479.5 117.5,478.6 119.6,477.6 121.7,476.6 123.8,475.5 125.9,474.5 128.0,473.4 130.1,472.3 132.2,471.2 134.3,470.1 136.4,468.9 138.5,467.8" fill="none" stroke="#151515" stroke-width="1.2" stroke-linejoin="round" stroke-dasharray="2.6,1.8"/>
<polyline points="75.4,504.7 77.5,503.6 79.6,502.5 81.7,501.3 83.8,500.2 85.9,499.2 88.0,498.1 90.1,497.0 92.2,496.0 94.3,495.0 96.4,494.0 98.5,493.1 100.6,492.3 102.7,491.5 104.8,490.8 107.0,490.2 109.1,489.7 111.2,489.3 113.3,489.0 115.4,488.7 117.5,488.5 119.6,488.3 121.7,488.2 123.8,488.1 125.9,488.0 128.0,488.0 130.1,487.9 132.2,487.9 134.3,487.8 136.4,487.8 138.5,487.8" fill="none" stroke="#151515" stroke-width="1.2" stroke-linejoin="round" stroke-dasharray="2.6,1.8"/>
<text x="123.7" y="503.6" font-size="8" font-weight="bold" fill="#8a8482" stroke="#8a8482" stroke-width="0.3">r</text>
<text x="127.9" y="499.4" font-size="5.2" font-weight="bold" text-anchor="start" fill="#8a8482" stroke="#8a8482" stroke-width="0.15">2</text>
<text x="133.8" y="503.6" font-size="8" font-weight="bold" text-anchor="start" fill="#8a8482" stroke="#8a8482" stroke-width="0.3" textLength="32.6" lengthAdjust="spacing">= 0.074</text>
<text x="124.3" y="511.9" font-size="8.6" font-weight="bold" fill="#8a8482" stroke="#8a8482" stroke-width="0.3" textLength="37.4" lengthAdjust="spacing"><tspan font-style="italic">P</tspan> = .068</text>
<line x1="212.70" y1="434.60" x2="212.70" y2="516.90" stroke="#151515" stroke-width="1.3"/>
<line x1="212.10" y1="516.30" x2="333.30" y2="516.30" stroke="#151515" stroke-width="1.3"/>
<line x1="209.90" y1="516.30" x2="212.70" y2="516.30" stroke="#151515" stroke-width="1.1"/>
<text x="209.29999999999998" y="519.5" font-size="9.6" font-weight="bold" text-anchor="end" fill="#151515" stroke="#151515" stroke-width="0.3">0</text>
<line x1="209.90" y1="504.71" x2="212.70" y2="504.71" stroke="#151515" stroke-width="1.1"/>
<text x="209.29999999999998" y="507.91428571428565" font-size="9.6" font-weight="bold" text-anchor="end" fill="#151515" stroke="#151515" stroke-width="0.3">1</text>
<line x1="209.90" y1="493.13" x2="212.70" y2="493.13" stroke="#151515" stroke-width="1.1"/>
<text x="209.29999999999998" y="496.32857142857137" font-size="9.6" font-weight="bold" text-anchor="end" fill="#151515" stroke="#151515" stroke-width="0.3">2</text>
<line x1="209.90" y1="481.54" x2="212.70" y2="481.54" stroke="#151515" stroke-width="1.1"/>
<text x="209.29999999999998" y="484.7428571428571" font-size="9.6" font-weight="bold" text-anchor="end" fill="#151515" stroke="#151515" stroke-width="0.3">3</text>
<line x1="209.90" y1="469.96" x2="212.70" y2="469.96" stroke="#151515" stroke-width="1.1"/>
<text x="209.29999999999998" y="473.15714285714284" font-size="9.6" font-weight="bold" text-anchor="end" fill="#151515" stroke="#151515" stroke-width="0.3">4</text>
<line x1="209.90" y1="458.37" x2="212.70" y2="458.37" stroke="#151515" stroke-width="1.1"/>
<text x="209.29999999999998" y="461.57142857142856" font-size="9.6" font-weight="bold" text-anchor="end" fill="#151515" stroke="#151515" stroke-width="0.3">5</text>
<line x1="209.90" y1="446.79" x2="212.70" y2="446.79" stroke="#151515" stroke-width="1.1"/>
<text x="209.29999999999998" y="449.98571428571427" font-size="9.6" font-weight="bold" text-anchor="end" fill="#151515" stroke="#151515" stroke-width="0.3">6</text>
<line x1="209.90" y1="435.20" x2="212.70" y2="435.20" stroke="#151515" stroke-width="1.1"/>
<text x="209.29999999999998" y="438.4" font-size="9.6" font-weight="bold" text-anchor="end" fill="#151515" stroke="#151515" stroke-width="0.3">7</text>
<line x1="212.70" y1="516.30" x2="212.70" y2="519.10" stroke="#151515" stroke-width="1.1"/>
<text x="212.7" y="528.3" font-size="9.6" font-weight="bold" text-anchor="middle" fill="#151515" stroke="#151515" stroke-width="0.3">2.5</text>
<line x1="236.82" y1="516.30" x2="236.82" y2="519.10" stroke="#151515" stroke-width="1.1"/>
<text x="236.82" y="528.3" font-size="9.6" font-weight="bold" text-anchor="middle" fill="#151515" stroke="#151515" stroke-width="0.3">3.0</text>
<line x1="260.94" y1="516.30" x2="260.94" y2="519.10" stroke="#151515" stroke-width="1.1"/>
<text x="260.94" y="528.3" font-size="9.6" font-weight="bold" text-anchor="middle" fill="#151515" stroke="#151515" stroke-width="0.3">3.5</text>
<line x1="285.06" y1="516.30" x2="285.06" y2="519.10" stroke="#151515" stroke-width="1.1"/>
<text x="285.06" y="528.3" font-size="9.6" font-weight="bold" text-anchor="middle" fill="#151515" stroke="#151515" stroke-width="0.3">4.0</text>
<line x1="309.18" y1="516.30" x2="309.18" y2="519.10" stroke="#151515" stroke-width="1.1"/>
<text x="309.18" y="528.3" font-size="9.6" font-weight="bold" text-anchor="middle" fill="#151515" stroke="#151515" stroke-width="0.3">4.5</text>
<line x1="333.30" y1="516.30" x2="333.30" y2="519.10" stroke="#151515" stroke-width="1.1"/>
<text x="333.3" y="528.3" font-size="9.6" font-weight="bold" text-anchor="middle" fill="#151515" stroke="#151515" stroke-width="0.3">5.0</text>
<text x="218.75" y="426.25" font-size="12" font-weight="bold" text-anchor="start" fill="#7f7977" stroke="#7f7977" stroke-width="0.3" textLength="103.3" lengthAdjust="spacing" stroke-opacity="0.35">maximum titers</text>
<text x="270.6" y="440.6" font-size="8.8" font-weight="bold" text-anchor="middle" fill="#8a8482" stroke="#8a8482" stroke-width="0.3" textLength="21" lengthAdjust="spacingAndGlyphs">(log)</text>
<text x="219.2" y="512.6" font-size="19.5" font-weight="bold" text-anchor="start" fill="#807a78" stroke="#807a78" stroke-width="0.3" textLength="34.2" lengthAdjust="spacingAndGlyphs" stroke-opacity="0">n.s.</text>
<circle cx="237.4" cy="463.5" r="2.3" fill="#111" stroke="none" stroke-width="0"/>
<circle cx="237.4" cy="469.6" r="2.3" fill="#111" stroke="none" stroke-width="0"/>
<circle cx="238.2" cy="478.1" r="2.3" fill="#111" stroke="none" stroke-width="0"/>
<circle cx="254.8" cy="455.5" r="2.3" fill="#111" stroke="none" stroke-width="0"/>
<circle cx="259.7" cy="472.4" r="2.3" fill="#111" stroke="none" stroke-width="0"/>
<circle cx="254.3" cy="478.1" r="2.3" fill="#111" stroke="none" stroke-width="0"/>
<circle cx="256.3" cy="499.2" r="2.3" fill="#111" stroke="none" stroke-width="0"/>
<circle cx="260.9" cy="500.4" r="2.3" fill="#111" stroke="none" stroke-width="0"/>
<circle cx="267.1" cy="481.2" r="2.3" fill="#111" stroke="none" stroke-width="0"/>
<circle cx="268.9" cy="485.3" r="2.3" fill="#111" stroke="none" stroke-width="0"/>
<circle cx="272.8" cy="485.8" r="2.3" fill="#111" stroke="none" stroke-width="0"/>
<circle cx="269.7" cy="495.0" r="2.3" fill="#111" stroke="none" stroke-width="0"/>
<circle cx="273.5" cy="498.1" r="2.3" fill="#111" stroke="none" stroke-width="0"/>
<circle cx="273.2" cy="472.7" r="2.3" fill="#111" stroke="none" stroke-width="0"/>
<circle cx="276.6" cy="471.2" r="2.3" fill="#111" stroke="none" stroke-width="0"/>
<circle cx="272.3" cy="477.3" r="2.3" fill="#111" stroke="none" stroke-width="0"/>
<circle cx="275.1" cy="477.3" r="2.3" fill="#111" stroke="none" stroke-width="0"/>
<circle cx="276.6" cy="481.9" r="2.3" fill="#111" stroke="none" stroke-width="0"/>
<circle cx="276.6" cy="463.5" r="2.3" fill="#111" stroke="none" stroke-width="0"/>
<circle cx="278.2" cy="465.3" r="2.3" fill="#111" stroke="none" stroke-width="0"/>
<circle cx="282.0" cy="465.0" r="2.3" fill="#111" stroke="none" stroke-width="0"/>
<circle cx="280.9" cy="491.9" r="2.3" fill="#111" stroke="none" stroke-width="0"/>
<circle cx="282.0" cy="481.2" r="2.3" fill="#111" stroke="none" stroke-width="0"/>
<circle cx="284.3" cy="460.4" r="2.3" fill="#111" stroke="none" stroke-width="0"/>
<circle cx="287.1" cy="457.3" r="2.3" fill="#111" stroke="none" stroke-width="0"/>
<circle cx="292.8" cy="458.1" r="2.3" fill="#111" stroke="none" stroke-width="0"/>
<circle cx="285.1" cy="469.6" r="2.3" fill="#111" stroke="none" stroke-width="0"/>
<circle cx="286.6" cy="476.5" r="2.3" fill="#111" stroke="none" stroke-width="0"/>
<circle cx="288.9" cy="464.2" r="2.3" fill="#111" stroke="none" stroke-width="0"/>
<circle cx="290.2" cy="467.3" r="2.3" fill="#111" stroke="none" stroke-width="0"/>
<circle cx="288.2" cy="480.4" r="2.3" fill="#111" stroke="none" stroke-width="0"/>
<circle cx="289.7" cy="482.7" r="2.3" fill="#111" stroke="none" stroke-width="0"/>
<circle cx="288.9" cy="485.8" r="2.3" fill="#111" stroke="none" stroke-width="0"/>
<circle cx="288.2" cy="491.9" r="2.3" fill="#111" stroke="none" stroke-width="0"/>
<circle cx="290.2" cy="495.8" r="2.3" fill="#111" stroke="none" stroke-width="0"/>
<circle cx="296.3" cy="469.6" r="2.3" fill="#111" stroke="none" stroke-width="0"/>
<circle cx="308.9" cy="470.4" r="2.3" fill="#111" stroke="none" stroke-width="0"/>
<circle cx="311.2" cy="472.0" r="2.3" fill="#111" stroke="none" stroke-width="0"/>
<circle cx="311.2" cy="481.2" r="2.3" fill="#111" stroke="none" stroke-width="0"/>
<circle cx="311.2" cy="491.2" r="2.3" fill="#111" stroke="none" stroke-width="0"/>
<circle cx="307.7" cy="494.5" r="2.3" fill="#111" stroke="none" stroke-width="0"/>
<circle cx="322.3" cy="476.5" r="2.3" fill="#111" stroke="none" stroke-width="0"/>
<circle cx="286.6" cy="481.2" r="2.3" fill="#111" stroke="none" stroke-width="0"/>
<line x1="237.20" y1="475.20" x2="322.50" y2="479.80" stroke="#151515" stroke-width="1.7"/>
<polyline points="237.2,466.3 240.0,467.0 242.9,467.6 245.7,468.3 248.6,468.9 251.4,469.5 254.3,470.2 257.1,470.8 259.9,471.3 262.8,471.9 265.6,472.4 268.5,472.9 271.3,473.3 274.2,473.7 277.0,474.0 279.9,474.2 282.7,474.3 285.5,474.3 288.4,474.3 291.2,474.2 294.1,474.0 296.9,473.8 299.8,473.5 302.6,473.3 305.4,473.0 308.3,472.7 311.1,472.3 314.0,472.0 316.8,471.7 319.7,471.3 322.5,471.0" fill="none" stroke="#151515" stroke-width="1.2" stroke-linejoin="round" stroke-dasharray="2.6,1.8"/>
<polyline points="237.2,484.1 240.0,483.7 242.9,483.4 245.7,483.1 248.6,482.7 251.4,482.4 254.3,482.1 257.1,481.8 259.9,481.5 262.8,481.3 265.6,481.0 268.5,480.9 271.3,480.7 274.2,480.7 277.0,480.7 279.9,480.8 282.7,481.0 285.5,481.3 288.4,481.6 291.2,482.1 294.1,482.5 296.9,483.1 299.8,483.6 302.6,484.2 305.4,484.8 308.3,485.4 311.1,486.0 314.0,486.7 316.8,487.3 319.7,488.0 322.5,488.6" fill="none" stroke="#151515" stroke-width="1.2" stroke-linejoin="round" stroke-dasharray="2.6,1.8"/>
<text x="292.2" y="503.9" font-size="8" font-weight="normal" fill="#8a8482" stroke="#8a8482" stroke-width="0.3">r</text>
<text x="295.1" y="499.6" font-size="5.2" font-weight="normal" text-anchor="start" fill="#8a8482" stroke="#8a8482" stroke-width="0.15">2</text>
<text x="298.5" y="503.9" font-size="8.2" font-weight="normal" text-anchor="start" fill="#8a8482" stroke="#8a8482" stroke-width="0.3" textLength="28.8" lengthAdjust="spacing">= 0.008</text>
<text x="292.2" y="513.6" font-size="8.6" font-weight="normal" fill="#8a8482" stroke="#8a8482" stroke-width="0.3" textLength="26.5" lengthAdjust="spacing"><tspan font-style="italic">P</tspan> = .57</text>
<line x1="388.30" y1="433.70" x2="388.30" y2="516.50" stroke="#151515" stroke-width="1.3"/>
<line x1="387.70" y1="515.90" x2="510.00" y2="515.90" stroke="#151515" stroke-width="1.3"/>
<line x1="385.50" y1="515.90" x2="388.30" y2="515.90" stroke="#151515" stroke-width="1.1"/>
<text x="384.90000000000003" y="519.1" font-size="9.6" font-weight="bold" text-anchor="end" fill="#151515" stroke="#151515" stroke-width="0.3">-0.05</text>
<line x1="385.50" y1="488.70" x2="388.30" y2="488.70" stroke="#151515" stroke-width="1.1"/>
<text x="384.90000000000003" y="491.9" font-size="9.6" font-weight="bold" text-anchor="end" fill="#151515" stroke="#151515" stroke-width="0.3">0.00</text>
<line x1="385.50" y1="461.50" x2="388.30" y2="461.50" stroke="#151515" stroke-width="1.1"/>
<text x="384.90000000000003" y="464.7" font-size="9.6" font-weight="bold" text-anchor="end" fill="#151515" stroke="#151515" stroke-width="0.3">0.05</text>
<line x1="385.50" y1="434.30" x2="388.30" y2="434.30" stroke="#151515" stroke-width="1.1"/>
<text x="384.90000000000003" y="437.5" font-size="9.6" font-weight="bold" text-anchor="end" fill="#151515" stroke="#151515" stroke-width="0.3">0.10</text>
<line x1="388.30" y1="515.90" x2="388.30" y2="518.70" stroke="#151515" stroke-width="1.1"/>
<text x="388.3" y="527.9" font-size="9.6" font-weight="bold" text-anchor="middle" fill="#151515" stroke="#151515" stroke-width="0.3">-0.05</text>
<line x1="428.87" y1="515.90" x2="428.87" y2="518.70" stroke="#151515" stroke-width="1.1"/>
<text x="428.8666666666667" y="527.9" font-size="9.6" font-weight="bold" text-anchor="middle" fill="#151515" stroke="#151515" stroke-width="0.3">0.00</text>
<line x1="469.43" y1="515.90" x2="469.43" y2="518.70" stroke="#151515" stroke-width="1.1"/>
<text x="469.43333333333334" y="527.9" font-size="9.6" font-weight="bold" text-anchor="middle" fill="#151515" stroke="#151515" stroke-width="0.3">0.05</text>
<line x1="510.00" y1="515.90" x2="510.00" y2="518.70" stroke="#151515" stroke-width="1.1"/>
<text x="510.0" y="527.9" font-size="9.6" font-weight="bold" text-anchor="middle" fill="#151515" stroke="#151515" stroke-width="0.3">0.10</text>
<text x="414.4" y="426.0" font-size="12" font-weight="bold" text-anchor="start" fill="#7f7977" stroke="#7f7977" stroke-width="0.3" textLength="43.3" lengthAdjust="spacing" stroke-opacity="0.35">slopes</text>
<circle cx="407.4" cy="490.8" r="2.3" fill="#111" stroke="none" stroke-width="0"/>
<circle cx="461.2" cy="445.8" r="2.3" fill="#111" stroke="none" stroke-width="0"/>
<circle cx="450.5" cy="447.4" r="2.3" fill="#111" stroke="none" stroke-width="0"/>
<circle cx="448.9" cy="450.8" r="2.3" fill="#111" stroke="none" stroke-width="0"/>
<circle cx="452.0" cy="455.7" r="2.3" fill="#111" stroke="none" stroke-width="0"/>
<circle cx="435.7" cy="458.2" r="2.3" fill="#111" stroke="none" stroke-width="0"/>
<circle cx="437.7" cy="462.3" r="2.3" fill="#111" stroke="none" stroke-width="0"/>
<circle cx="443.8" cy="461.8" r="2.3" fill="#111" stroke="none" stroke-width="0"/>
<circle cx="456.9" cy="461.8" r="2.3" fill="#111" stroke="none" stroke-width="0"/>
<circle cx="471.1" cy="468.5" r="2.3" fill="#111" stroke="none" stroke-width="0"/>
<circle cx="435.1" cy="470.0" r="2.3" fill="#111" stroke="none" stroke-width="0"/>
<circle cx="436.2" cy="472.6" r="2.3" fill="#111" stroke="none" stroke-width="0"/>
<circle cx="459.7" cy="473.5" r="2.3" fill="#111" stroke="none" stroke-width="0"/>
<circle cx="427.7" cy="476.9" r="2.3" fill="#111" stroke="none" stroke-width="0"/>
<circle cx="431.5" cy="476.9" r="2.3" fill="#111" stroke="none" stroke-width="0"/>
<circle cx="445.4" cy="479.2" r="2.3" fill="#111" stroke="none" stroke-width="0"/>
<circle cx="421.8" cy="480.3" r="2.3" fill="#111" stroke="none" stroke-width="0"/>
<circle cx="425.4" cy="481.8" r="2.3" fill="#111" stroke="none" stroke-width="0"/>
<circle cx="453.1" cy="481.2" r="2.3" fill="#111" stroke="none" stroke-width="0"/>
<circle cx="454.2" cy="483.8" r="2.3" fill="#111" stroke="none" stroke-width="0"/>
<circle cx="455.4" cy="487.7" r="2.3" fill="#111" stroke="none" stroke-width="0"/>
<circle cx="459.2" cy="490.8" r="2.3" fill="#111" stroke="none" stroke-width="0"/>
<circle cx="423.1" cy="483.8" r="2.3" fill="#111" stroke="none" stroke-width="0"/>
<circle cx="429.2" cy="484.6" r="2.3" fill="#111" stroke="none" stroke-width="0"/>
<circle cx="432.3" cy="483.1" r="2.3" fill="#111" stroke="none" stroke-width="0"/>
<circle cx="426.9" cy="486.2" r="2.3" fill="#111" stroke="none" stroke-width="0"/>
<circle cx="430.0" cy="487.7" r="2.3" fill="#111" stroke="none" stroke-width="0"/>
<circle cx="433.1" cy="486.2" r="2.3" fill="#111" stroke="none" stroke-width="0"/>
<circle cx="419.2" cy="487.7" r="2.3" fill="#111" stroke="none" stroke-width="0"/>
<circle cx="422.3" cy="489.2" r="2.3" fill="#111" stroke="none" stroke-width="0"/>
<circle cx="428.5" cy="490.0" r="2.3" fill="#111" stroke="none" stroke-width="0"/>
<circle cx="418.5" cy="490.8" r="2.3" fill="#111" stroke="none" stroke-width="0"/>
<circle cx="417.7" cy="494.6" r="2.3" fill="#111" stroke="none" stroke-width="0"/>
<circle cx="435.4" cy="489.2" r="2.3" fill="#111" stroke="none" stroke-width="0"/>
<circle cx="439.2" cy="490.8" r="2.3" fill="#111" stroke="none" stroke-width="0"/>
<circle cx="424.3" cy="496.2" r="2.3" fill="#111" stroke="none" stroke-width="0"/>
<circle cx="427.7" cy="495.4" r="2.3" fill="#111" stroke="none" stroke-width="0"/>
<circle cx="434.6" cy="498.5" r="2.3" fill="#111" stroke="none" stroke-width="0"/>
<circle cx="423.1" cy="501.8" r="2.3" fill="#111" stroke="none" stroke-width="0"/>
<circle cx="436.9" cy="506.9" r="2.3" fill="#111" stroke="none" stroke-width="0"/>
<line x1="406.90" y1="496.90" x2="471.10" y2="460.80" stroke="#c82a36" stroke-width="1.8"/>
<polyline points="406.9,488.6 409.0,487.9 411.2,487.2 413.3,486.4 415.5,485.6 417.6,484.9 419.7,484.0 421.9,483.2 424.0,482.4 426.2,481.5 428.3,480.5 430.4,479.5 432.6,478.5 434.7,477.3 436.9,476.1 439.0,474.9 441.1,473.5 443.3,472.1 445.4,470.7 447.6,469.2 449.7,467.6 451.8,466.1 454.0,464.5 456.1,462.9 458.3,461.2 460.4,459.6 462.5,457.9 464.7,456.3 466.8,454.6 469.0,452.9 471.1,451.2" fill="none" stroke="#c82a36" stroke-width="1.2" stroke-linejoin="round" stroke-dasharray="2.6,1.8"/>
<polyline points="406.9,505.2 409.0,503.5 411.2,501.8 413.3,500.2 415.5,498.5 417.6,496.9 419.7,495.3 421.9,493.7 424.0,492.2 426.2,490.7 428.3,489.2 430.4,487.8 432.6,486.5 434.7,485.2 436.9,484.0 439.0,482.8 441.1,481.8 443.3,480.7 445.4,479.8 447.6,478.9 449.7,478.0 451.8,477.2 454.0,476.4 456.1,475.6 458.3,474.8 460.4,474.1 462.5,473.3 464.7,472.6 466.8,471.8 469.0,471.1 471.1,470.4" fill="none" stroke="#c82a36" stroke-width="1.2" stroke-linejoin="round" stroke-dasharray="2.6,1.8"/>
<text x="457.6" y="501.4" font-size="10.5" font-weight="bold" fill="#c82a36" stroke="#c82a36" stroke-width="0.3">r</text>
<text x="462.4" y="495.2" font-size="6.6" font-weight="bold" text-anchor="start" fill="#c82a36" stroke="#c82a36" stroke-width="0.15">2</text>
<text x="466.6" y="501.4" font-size="10.2" font-weight="bold" text-anchor="start" fill="#c82a36" stroke="#c82a36" stroke-width="0.3" textLength="37.6" lengthAdjust="spacing">= 0.317</text>
<text x="458.1" y="511.9" font-size="10.2" font-weight="bold" fill="#c82a36" stroke="#c82a36" stroke-width="0.3" textLength="46.9" lengthAdjust="spacing"><tspan font-style="italic">P</tspan> &lt; .0001</text>
</svg>
</body></html>
